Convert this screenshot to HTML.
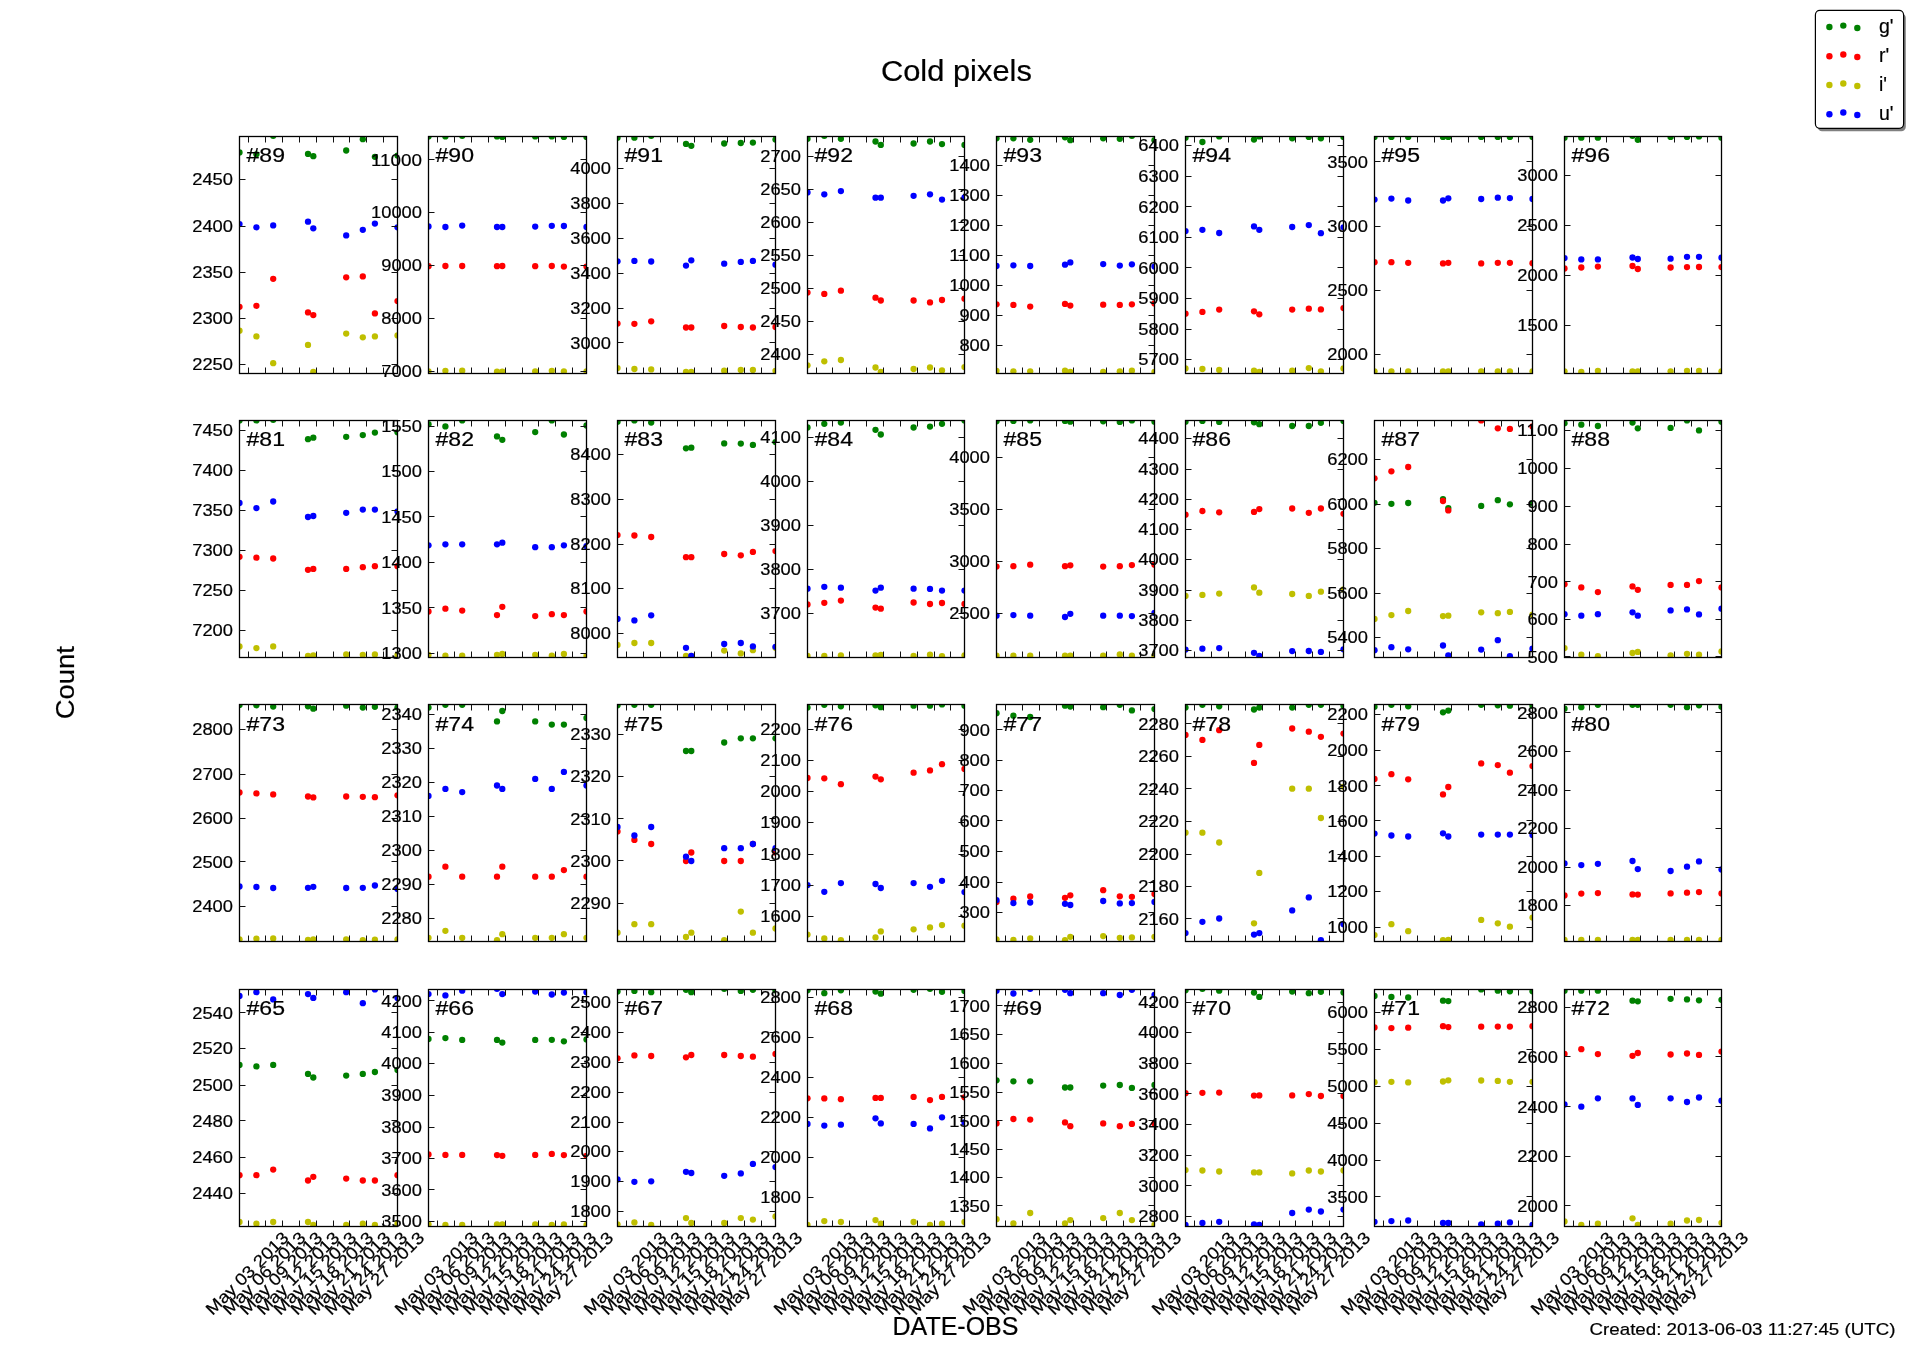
<!DOCTYPE html><html><head><meta charset="utf-8"><style>html,body{margin:0;padding:0;background:#fff;}svg{display:block;will-change:transform;}text{font-family:"Liberation Sans",sans-serif;fill:#000;stroke:#000;stroke-width:0.2px;}</style></head><body>
<svg width="1912" height="1362" viewBox="0 0 1912 1362">
<rect x="0" y="0" width="1912" height="1362" fill="#fff"/>
<defs><clipPath id="c00"><rect x="239.5" y="136.5" width="158.0" height="237.0"/></clipPath><clipPath id="c01"><rect x="428.5" y="136.5" width="158.0" height="237.0"/></clipPath><clipPath id="c02"><rect x="617.5" y="136.5" width="158.0" height="237.0"/></clipPath><clipPath id="c03"><rect x="807.5" y="136.5" width="157.0" height="237.0"/></clipPath><clipPath id="c04"><rect x="996.5" y="136.5" width="158.0" height="237.0"/></clipPath><clipPath id="c05"><rect x="1185.5" y="136.5" width="158.0" height="237.0"/></clipPath><clipPath id="c06"><rect x="1374.5" y="136.5" width="158.0" height="237.0"/></clipPath><clipPath id="c07"><rect x="1564.5" y="136.5" width="157.0" height="237.0"/></clipPath><clipPath id="c10"><rect x="239.5" y="420.5" width="158.0" height="237.0"/></clipPath><clipPath id="c11"><rect x="428.5" y="420.5" width="158.0" height="237.0"/></clipPath><clipPath id="c12"><rect x="617.5" y="420.5" width="158.0" height="237.0"/></clipPath><clipPath id="c13"><rect x="807.5" y="420.5" width="157.0" height="237.0"/></clipPath><clipPath id="c14"><rect x="996.5" y="420.5" width="158.0" height="237.0"/></clipPath><clipPath id="c15"><rect x="1185.5" y="420.5" width="158.0" height="237.0"/></clipPath><clipPath id="c16"><rect x="1374.5" y="420.5" width="158.0" height="237.0"/></clipPath><clipPath id="c17"><rect x="1564.5" y="420.5" width="157.0" height="237.0"/></clipPath><clipPath id="c20"><rect x="239.5" y="704.5" width="158.0" height="237.0"/></clipPath><clipPath id="c21"><rect x="428.5" y="704.5" width="158.0" height="237.0"/></clipPath><clipPath id="c22"><rect x="617.5" y="704.5" width="158.0" height="237.0"/></clipPath><clipPath id="c23"><rect x="807.5" y="704.5" width="157.0" height="237.0"/></clipPath><clipPath id="c24"><rect x="996.5" y="704.5" width="158.0" height="237.0"/></clipPath><clipPath id="c25"><rect x="1185.5" y="704.5" width="158.0" height="237.0"/></clipPath><clipPath id="c26"><rect x="1374.5" y="704.5" width="158.0" height="237.0"/></clipPath><clipPath id="c27"><rect x="1564.5" y="704.5" width="157.0" height="237.0"/></clipPath><clipPath id="c30"><rect x="239.5" y="989.5" width="158.0" height="237.0"/></clipPath><clipPath id="c31"><rect x="428.5" y="989.5" width="158.0" height="237.0"/></clipPath><clipPath id="c32"><rect x="617.5" y="989.5" width="158.0" height="237.0"/></clipPath><clipPath id="c33"><rect x="807.5" y="989.5" width="157.0" height="237.0"/></clipPath><clipPath id="c34"><rect x="996.5" y="989.5" width="158.0" height="237.0"/></clipPath><clipPath id="c35"><rect x="1185.5" y="989.5" width="158.0" height="237.0"/></clipPath><clipPath id="c36"><rect x="1374.5" y="989.5" width="158.0" height="237.0"/></clipPath><clipPath id="c37"><rect x="1564.5" y="989.5" width="157.0" height="237.0"/></clipPath></defs>
<g clip-path="url(#c00)"><g fill="#008000"><circle cx="239.5" cy="152.4" r="3.15"/><circle cx="256.4" cy="154.3" r="3.15"/><circle cx="273.2" cy="135.8" r="3.15"/><circle cx="308.0" cy="153.9" r="3.15"/><circle cx="313.3" cy="156.2" r="3.15"/><circle cx="346.2" cy="150.5" r="3.15"/><circle cx="362.8" cy="139.2" r="3.15"/><circle cx="374.9" cy="156.8" r="3.15"/><circle cx="397.5" cy="155.6" r="3.15"/></g><g fill="#ff0000"><circle cx="239.5" cy="306.8" r="3.15"/><circle cx="256.4" cy="305.8" r="3.15"/><circle cx="273.2" cy="278.8" r="3.15"/><circle cx="308.0" cy="312.4" r="3.15"/><circle cx="313.3" cy="315.1" r="3.15"/><circle cx="346.2" cy="277.3" r="3.15"/><circle cx="362.8" cy="276.4" r="3.15"/><circle cx="374.9" cy="313.4" r="3.15"/><circle cx="397.5" cy="301.1" r="3.15"/></g><g fill="#bfbf00"><circle cx="239.5" cy="330.7" r="3.15"/><circle cx="256.4" cy="336.4" r="3.15"/><circle cx="273.2" cy="363.2" r="3.15"/><circle cx="308.0" cy="344.9" r="3.15"/><circle cx="313.3" cy="371.9" r="3.15"/><circle cx="346.2" cy="333.6" r="3.15"/><circle cx="362.8" cy="337.3" r="3.15"/><circle cx="374.9" cy="336.4" r="3.15"/><circle cx="397.5" cy="335.4" r="3.15"/></g><g fill="#0000ff"><circle cx="239.5" cy="224.1" r="3.15"/><circle cx="256.4" cy="227.3" r="3.15"/><circle cx="273.2" cy="225.4" r="3.15"/><circle cx="308.0" cy="221.7" r="3.15"/><circle cx="313.3" cy="228.3" r="3.15"/><circle cx="346.2" cy="235.4" r="3.15"/><circle cx="362.8" cy="229.8" r="3.15"/><circle cx="374.9" cy="223.6" r="3.15"/><circle cx="397.5" cy="227.3" r="3.15"/></g></g><rect x="239.5" y="136.5" width="158.0" height="237.0" fill="none" stroke="#000" stroke-width="1.3"/><path d="M239.5 179.5h6M397.5 179.5h-6M239.5 226.5h6M397.5 226.5h-6M239.5 272.5h6M397.5 272.5h-6M239.5 318.5h6M397.5 318.5h-6M239.5 364.5h6M397.5 364.5h-6M248.5 136.5v6M248.5 373.5v-6M265.5 136.5v6M265.5 373.5v-6M282.5 136.5v6M282.5 373.5v-6M299.5 136.5v6M299.5 373.5v-6M316.5 136.5v6M316.5 373.5v-6M333.5 136.5v6M333.5 373.5v-6M349.5 136.5v6M349.5 373.5v-6M366.5 136.5v6M366.5 373.5v-6M383.5 136.5v6M383.5 373.5v-6" stroke="#111" stroke-width="1" fill="none"/><text x="233.0" y="185.4" font-size="16.8" text-anchor="end" textLength="40.8" lengthAdjust="spacingAndGlyphs">2450</text><text x="233.0" y="232.0" font-size="16.8" text-anchor="end" textLength="40.8" lengthAdjust="spacingAndGlyphs">2400</text><text x="233.0" y="278.2" font-size="16.8" text-anchor="end" textLength="40.8" lengthAdjust="spacingAndGlyphs">2350</text><text x="233.0" y="324.4" font-size="16.8" text-anchor="end" textLength="40.8" lengthAdjust="spacingAndGlyphs">2300</text><text x="233.0" y="370.3" font-size="16.8" text-anchor="end" textLength="40.8" lengthAdjust="spacingAndGlyphs">2250</text><text x="246.5" y="161.8" font-size="19.4" textLength="38.5" lengthAdjust="spacingAndGlyphs">#89</text><g clip-path="url(#c01)"><g fill="#008000"><circle cx="428.5" cy="136.4" r="3.15"/><circle cx="445.4" cy="136.4" r="3.15"/><circle cx="462.2" cy="135.8" r="3.15"/><circle cx="497.0" cy="136.4" r="3.15"/><circle cx="502.3" cy="136.9" r="3.15"/><circle cx="535.2" cy="136.4" r="3.15"/><circle cx="551.8" cy="136.4" r="3.15"/><circle cx="563.9" cy="136.9" r="3.15"/><circle cx="586.5" cy="136.9" r="3.15"/></g><g fill="#ff0000"><circle cx="428.5" cy="266.2" r="3.15"/><circle cx="445.4" cy="266.0" r="3.15"/><circle cx="462.2" cy="266.0" r="3.15"/><circle cx="497.0" cy="266.2" r="3.15"/><circle cx="502.3" cy="266.0" r="3.15"/><circle cx="535.2" cy="266.2" r="3.15"/><circle cx="551.8" cy="266.0" r="3.15"/><circle cx="563.9" cy="266.6" r="3.15"/><circle cx="586.5" cy="266.6" r="3.15"/></g><g fill="#bfbf00"><circle cx="428.5" cy="371.3" r="3.15"/><circle cx="445.4" cy="370.9" r="3.15"/><circle cx="462.2" cy="370.7" r="3.15"/><circle cx="497.0" cy="371.7" r="3.15"/><circle cx="502.3" cy="371.7" r="3.15"/><circle cx="535.2" cy="371.3" r="3.15"/><circle cx="551.8" cy="370.9" r="3.15"/><circle cx="563.9" cy="371.3" r="3.15"/><circle cx="586.5" cy="371.3" r="3.15"/></g><g fill="#0000ff"><circle cx="428.5" cy="226.4" r="3.15"/><circle cx="445.4" cy="227.0" r="3.15"/><circle cx="462.2" cy="225.6" r="3.15"/><circle cx="497.0" cy="227.0" r="3.15"/><circle cx="502.3" cy="227.0" r="3.15"/><circle cx="535.2" cy="226.6" r="3.15"/><circle cx="551.8" cy="225.8" r="3.15"/><circle cx="563.9" cy="226.0" r="3.15"/><circle cx="586.5" cy="227.0" r="3.15"/></g></g><rect x="428.5" y="136.5" width="158.0" height="237.0" fill="none" stroke="#000" stroke-width="1.3"/><path d="M428.5 159.5h6M586.5 159.5h-6M428.5 212.5h6M586.5 212.5h-6M428.5 265.5h6M586.5 265.5h-6M428.5 318.5h6M586.5 318.5h-6M428.5 371.5h6M586.5 371.5h-6M437.5 136.5v6M437.5 373.5v-6M454.5 136.5v6M454.5 373.5v-6M471.5 136.5v6M471.5 373.5v-6M488.5 136.5v6M488.5 373.5v-6M505.5 136.5v6M505.5 373.5v-6M522.5 136.5v6M522.5 373.5v-6M538.5 136.5v6M538.5 373.5v-6M555.5 136.5v6M555.5 373.5v-6M572.5 136.5v6M572.5 373.5v-6" stroke="#111" stroke-width="1" fill="none"/><text x="422.0" y="165.5" font-size="16.8" text-anchor="end" textLength="51.0" lengthAdjust="spacingAndGlyphs">11000</text><text x="422.0" y="218.4" font-size="16.8" text-anchor="end" textLength="51.0" lengthAdjust="spacingAndGlyphs">10000</text><text x="422.0" y="271.2" font-size="16.8" text-anchor="end" textLength="40.8" lengthAdjust="spacingAndGlyphs">9000</text><text x="422.0" y="324.0" font-size="16.8" text-anchor="end" textLength="40.8" lengthAdjust="spacingAndGlyphs">8000</text><text x="422.0" y="377.3" font-size="16.8" text-anchor="end" textLength="40.8" lengthAdjust="spacingAndGlyphs">7000</text><text x="435.5" y="161.8" font-size="19.4" textLength="38.5" lengthAdjust="spacingAndGlyphs">#90</text><g clip-path="url(#c02)"><g fill="#008000"><circle cx="617.5" cy="137.7" r="3.15"/><circle cx="634.4" cy="137.7" r="3.15"/><circle cx="651.2" cy="135.8" r="3.15"/><circle cx="686.0" cy="143.9" r="3.15"/><circle cx="691.3" cy="145.8" r="3.15"/><circle cx="724.2" cy="143.5" r="3.15"/><circle cx="740.8" cy="143.0" r="3.15"/><circle cx="752.9" cy="142.6" r="3.15"/><circle cx="775.5" cy="139.6" r="3.15"/></g><g fill="#ff0000"><circle cx="617.5" cy="323.6" r="3.15"/><circle cx="634.4" cy="323.8" r="3.15"/><circle cx="651.2" cy="321.3" r="3.15"/><circle cx="686.0" cy="327.5" r="3.15"/><circle cx="691.3" cy="327.5" r="3.15"/><circle cx="724.2" cy="326.0" r="3.15"/><circle cx="740.8" cy="327.0" r="3.15"/><circle cx="752.9" cy="327.5" r="3.15"/><circle cx="775.5" cy="327.0" r="3.15"/></g><g fill="#bfbf00"><circle cx="617.5" cy="368.1" r="3.15"/><circle cx="634.4" cy="369.0" r="3.15"/><circle cx="651.2" cy="369.4" r="3.15"/><circle cx="686.0" cy="371.9" r="3.15"/><circle cx="691.3" cy="371.9" r="3.15"/><circle cx="724.2" cy="370.7" r="3.15"/><circle cx="740.8" cy="370.0" r="3.15"/><circle cx="752.9" cy="370.0" r="3.15"/><circle cx="775.5" cy="370.9" r="3.15"/></g><g fill="#0000ff"><circle cx="617.5" cy="261.3" r="3.15"/><circle cx="634.4" cy="260.9" r="3.15"/><circle cx="651.2" cy="261.5" r="3.15"/><circle cx="686.0" cy="265.6" r="3.15"/><circle cx="691.3" cy="260.3" r="3.15"/><circle cx="724.2" cy="263.7" r="3.15"/><circle cx="740.8" cy="261.9" r="3.15"/><circle cx="752.9" cy="260.9" r="3.15"/><circle cx="775.5" cy="264.7" r="3.15"/></g></g><rect x="617.5" y="136.5" width="158.0" height="237.0" fill="none" stroke="#000" stroke-width="1.3"/><path d="M617.5 168.5h6M775.5 168.5h-6M617.5 203.5h6M775.5 203.5h-6M617.5 238.5h6M775.5 238.5h-6M617.5 273.5h6M775.5 273.5h-6M617.5 308.5h6M775.5 308.5h-6M617.5 342.5h6M775.5 342.5h-6M626.5 136.5v6M626.5 373.5v-6M643.5 136.5v6M643.5 373.5v-6M660.5 136.5v6M660.5 373.5v-6M677.5 136.5v6M677.5 373.5v-6M694.5 136.5v6M694.5 373.5v-6M711.5 136.5v6M711.5 373.5v-6M727.5 136.5v6M727.5 373.5v-6M744.5 136.5v6M744.5 373.5v-6M761.5 136.5v6M761.5 373.5v-6" stroke="#111" stroke-width="1" fill="none"/><text x="611.0" y="174.4" font-size="16.8" text-anchor="end" textLength="40.8" lengthAdjust="spacingAndGlyphs">4000</text><text x="611.0" y="209.3" font-size="16.8" text-anchor="end" textLength="40.8" lengthAdjust="spacingAndGlyphs">3800</text><text x="611.0" y="244.2" font-size="16.8" text-anchor="end" textLength="40.8" lengthAdjust="spacingAndGlyphs">3600</text><text x="611.0" y="279.1" font-size="16.8" text-anchor="end" textLength="40.8" lengthAdjust="spacingAndGlyphs">3400</text><text x="611.0" y="314.0" font-size="16.8" text-anchor="end" textLength="40.8" lengthAdjust="spacingAndGlyphs">3200</text><text x="611.0" y="348.9" font-size="16.8" text-anchor="end" textLength="40.8" lengthAdjust="spacingAndGlyphs">3000</text><text x="624.5" y="161.8" font-size="19.4" textLength="38.5" lengthAdjust="spacingAndGlyphs">#91</text><g clip-path="url(#c03)"><g fill="#008000"><circle cx="807.5" cy="138.8" r="3.15"/><circle cx="824.3" cy="135.8" r="3.15"/><circle cx="840.9" cy="138.8" r="3.15"/><circle cx="875.5" cy="141.5" r="3.15"/><circle cx="880.8" cy="144.9" r="3.15"/><circle cx="913.6" cy="143.5" r="3.15"/><circle cx="930.0" cy="141.5" r="3.15"/><circle cx="942.0" cy="144.1" r="3.15"/><circle cx="964.5" cy="144.9" r="3.15"/></g><g fill="#ff0000"><circle cx="807.5" cy="292.6" r="3.15"/><circle cx="824.3" cy="293.9" r="3.15"/><circle cx="840.9" cy="290.7" r="3.15"/><circle cx="875.5" cy="297.7" r="3.15"/><circle cx="880.8" cy="300.5" r="3.15"/><circle cx="913.6" cy="300.5" r="3.15"/><circle cx="930.0" cy="302.4" r="3.15"/><circle cx="942.0" cy="300.0" r="3.15"/><circle cx="964.5" cy="298.7" r="3.15"/></g><g fill="#bfbf00"><circle cx="807.5" cy="365.3" r="3.15"/><circle cx="824.3" cy="361.3" r="3.15"/><circle cx="840.9" cy="360.0" r="3.15"/><circle cx="875.5" cy="367.5" r="3.15"/><circle cx="880.8" cy="371.9" r="3.15"/><circle cx="913.6" cy="369.0" r="3.15"/><circle cx="930.0" cy="367.5" r="3.15"/><circle cx="942.0" cy="370.4" r="3.15"/><circle cx="964.5" cy="367.1" r="3.15"/></g><g fill="#0000ff"><circle cx="807.5" cy="192.4" r="3.15"/><circle cx="824.3" cy="194.3" r="3.15"/><circle cx="840.9" cy="191.1" r="3.15"/><circle cx="875.5" cy="197.7" r="3.15"/><circle cx="880.8" cy="197.7" r="3.15"/><circle cx="913.6" cy="195.8" r="3.15"/><circle cx="930.0" cy="194.3" r="3.15"/><circle cx="942.0" cy="199.6" r="3.15"/><circle cx="964.5" cy="197.3" r="3.15"/></g></g><rect x="807.5" y="136.5" width="157.0" height="237.0" fill="none" stroke="#000" stroke-width="1.3"/><path d="M807.5 156.5h6M964.5 156.5h-6M807.5 189.5h6M964.5 189.5h-6M807.5 222.5h6M964.5 222.5h-6M807.5 255.5h6M964.5 255.5h-6M807.5 288.5h6M964.5 288.5h-6M807.5 321.5h6M964.5 321.5h-6M807.5 354.5h6M964.5 354.5h-6M816.5 136.5v6M816.5 373.5v-6M832.5 136.5v6M832.5 373.5v-6M849.5 136.5v6M849.5 373.5v-6M866.5 136.5v6M866.5 373.5v-6M883.5 136.5v6M883.5 373.5v-6M900.5 136.5v6M900.5 373.5v-6M917.5 136.5v6M917.5 373.5v-6M934.5 136.5v6M934.5 373.5v-6M950.5 136.5v6M950.5 373.5v-6" stroke="#111" stroke-width="1" fill="none"/><text x="801.0" y="162.1" font-size="16.8" text-anchor="end" textLength="40.8" lengthAdjust="spacingAndGlyphs">2700</text><text x="801.0" y="195.2" font-size="16.8" text-anchor="end" textLength="40.8" lengthAdjust="spacingAndGlyphs">2650</text><text x="801.0" y="228.2" font-size="16.8" text-anchor="end" textLength="40.8" lengthAdjust="spacingAndGlyphs">2600</text><text x="801.0" y="261.2" font-size="16.8" text-anchor="end" textLength="40.8" lengthAdjust="spacingAndGlyphs">2550</text><text x="801.0" y="294.2" font-size="16.8" text-anchor="end" textLength="40.8" lengthAdjust="spacingAndGlyphs">2500</text><text x="801.0" y="327.2" font-size="16.8" text-anchor="end" textLength="40.8" lengthAdjust="spacingAndGlyphs">2450</text><text x="801.0" y="360.3" font-size="16.8" text-anchor="end" textLength="40.8" lengthAdjust="spacingAndGlyphs">2400</text><text x="814.5" y="161.8" font-size="19.4" textLength="38.5" lengthAdjust="spacingAndGlyphs">#92</text><g clip-path="url(#c04)"><g fill="#008000"><circle cx="996.5" cy="138.3" r="3.15"/><circle cx="1013.4" cy="138.3" r="3.15"/><circle cx="1030.2" cy="139.8" r="3.15"/><circle cx="1065.0" cy="137.3" r="3.15"/><circle cx="1070.3" cy="140.2" r="3.15"/><circle cx="1103.2" cy="138.3" r="3.15"/><circle cx="1119.8" cy="138.8" r="3.15"/><circle cx="1131.9" cy="135.8" r="3.15"/><circle cx="1154.5" cy="140.2" r="3.15"/></g><g fill="#ff0000"><circle cx="996.5" cy="304.3" r="3.15"/><circle cx="1013.4" cy="304.9" r="3.15"/><circle cx="1030.2" cy="306.6" r="3.15"/><circle cx="1065.0" cy="303.9" r="3.15"/><circle cx="1070.3" cy="305.6" r="3.15"/><circle cx="1103.2" cy="304.7" r="3.15"/><circle cx="1119.8" cy="304.9" r="3.15"/><circle cx="1131.9" cy="304.3" r="3.15"/><circle cx="1154.5" cy="303.4" r="3.15"/></g><g fill="#bfbf00"><circle cx="996.5" cy="370.9" r="3.15"/><circle cx="1013.4" cy="371.3" r="3.15"/><circle cx="1030.2" cy="371.3" r="3.15"/><circle cx="1065.0" cy="370.7" r="3.15"/><circle cx="1070.3" cy="371.9" r="3.15"/><circle cx="1103.2" cy="371.9" r="3.15"/><circle cx="1119.8" cy="371.3" r="3.15"/><circle cx="1131.9" cy="370.7" r="3.15"/><circle cx="1154.5" cy="371.9" r="3.15"/></g><g fill="#0000ff"><circle cx="996.5" cy="266.0" r="3.15"/><circle cx="1013.4" cy="265.3" r="3.15"/><circle cx="1030.2" cy="266.0" r="3.15"/><circle cx="1065.0" cy="264.7" r="3.15"/><circle cx="1070.3" cy="262.4" r="3.15"/><circle cx="1103.2" cy="264.1" r="3.15"/><circle cx="1119.8" cy="265.6" r="3.15"/><circle cx="1131.9" cy="264.3" r="3.15"/><circle cx="1154.5" cy="266.6" r="3.15"/></g></g><rect x="996.5" y="136.5" width="158.0" height="237.0" fill="none" stroke="#000" stroke-width="1.3"/><path d="M996.5 165.5h6M1154.5 165.5h-6M996.5 195.5h6M1154.5 195.5h-6M996.5 225.5h6M1154.5 225.5h-6M996.5 255.5h6M1154.5 255.5h-6M996.5 285.5h6M1154.5 285.5h-6M996.5 315.5h6M1154.5 315.5h-6M996.5 345.5h6M1154.5 345.5h-6M1005.5 136.5v6M1005.5 373.5v-6M1022.5 136.5v6M1022.5 373.5v-6M1039.5 136.5v6M1039.5 373.5v-6M1056.5 136.5v6M1056.5 373.5v-6M1073.5 136.5v6M1073.5 373.5v-6M1090.5 136.5v6M1090.5 373.5v-6M1106.5 136.5v6M1106.5 373.5v-6M1123.5 136.5v6M1123.5 373.5v-6M1140.5 136.5v6M1140.5 373.5v-6" stroke="#111" stroke-width="1" fill="none"/><text x="990.0" y="171.2" font-size="16.8" text-anchor="end" textLength="40.8" lengthAdjust="spacingAndGlyphs">1400</text><text x="990.0" y="201.2" font-size="16.8" text-anchor="end" textLength="40.8" lengthAdjust="spacingAndGlyphs">1300</text><text x="990.0" y="231.2" font-size="16.8" text-anchor="end" textLength="40.8" lengthAdjust="spacingAndGlyphs">1200</text><text x="990.0" y="261.2" font-size="16.8" text-anchor="end" textLength="40.8" lengthAdjust="spacingAndGlyphs">1100</text><text x="990.0" y="291.4" font-size="16.8" text-anchor="end" textLength="40.8" lengthAdjust="spacingAndGlyphs">1000</text><text x="990.0" y="321.2" font-size="16.8" text-anchor="end" textLength="30.6" lengthAdjust="spacingAndGlyphs">900</text><text x="990.0" y="351.2" font-size="16.8" text-anchor="end" textLength="30.6" lengthAdjust="spacingAndGlyphs">800</text><text x="1003.5" y="161.8" font-size="19.4" textLength="38.5" lengthAdjust="spacingAndGlyphs">#93</text><g clip-path="url(#c05)"><g fill="#008000"><circle cx="1185.5" cy="137.7" r="3.15"/><circle cx="1202.4" cy="142.0" r="3.15"/><circle cx="1219.2" cy="136.4" r="3.15"/><circle cx="1254.0" cy="139.6" r="3.15"/><circle cx="1259.3" cy="136.4" r="3.15"/><circle cx="1292.2" cy="138.3" r="3.15"/><circle cx="1308.8" cy="136.9" r="3.15"/><circle cx="1320.9" cy="138.3" r="3.15"/><circle cx="1343.5" cy="136.9" r="3.15"/></g><g fill="#ff0000"><circle cx="1185.5" cy="313.7" r="3.15"/><circle cx="1202.4" cy="311.9" r="3.15"/><circle cx="1219.2" cy="309.6" r="3.15"/><circle cx="1254.0" cy="311.3" r="3.15"/><circle cx="1259.3" cy="314.3" r="3.15"/><circle cx="1292.2" cy="309.6" r="3.15"/><circle cx="1308.8" cy="308.7" r="3.15"/><circle cx="1320.9" cy="309.4" r="3.15"/><circle cx="1343.5" cy="308.1" r="3.15"/></g><g fill="#bfbf00"><circle cx="1185.5" cy="368.5" r="3.15"/><circle cx="1202.4" cy="369.0" r="3.15"/><circle cx="1219.2" cy="370.0" r="3.15"/><circle cx="1254.0" cy="370.7" r="3.15"/><circle cx="1259.3" cy="371.9" r="3.15"/><circle cx="1292.2" cy="370.7" r="3.15"/><circle cx="1308.8" cy="368.1" r="3.15"/><circle cx="1320.9" cy="371.3" r="3.15"/><circle cx="1343.5" cy="368.5" r="3.15"/></g><g fill="#0000ff"><circle cx="1185.5" cy="231.1" r="3.15"/><circle cx="1202.4" cy="229.8" r="3.15"/><circle cx="1219.2" cy="233.0" r="3.15"/><circle cx="1254.0" cy="226.4" r="3.15"/><circle cx="1259.3" cy="229.8" r="3.15"/><circle cx="1292.2" cy="227.0" r="3.15"/><circle cx="1308.8" cy="225.1" r="3.15"/><circle cx="1320.9" cy="233.2" r="3.15"/><circle cx="1343.5" cy="227.3" r="3.15"/></g></g><rect x="1185.5" y="136.5" width="158.0" height="237.0" fill="none" stroke="#000" stroke-width="1.3"/><path d="M1185.5 145.5h6M1343.5 145.5h-6M1185.5 176.5h6M1343.5 176.5h-6M1185.5 206.5h6M1343.5 206.5h-6M1185.5 237.5h6M1343.5 237.5h-6M1185.5 267.5h6M1343.5 267.5h-6M1185.5 298.5h6M1343.5 298.5h-6M1185.5 329.5h6M1343.5 329.5h-6M1185.5 359.5h6M1343.5 359.5h-6M1194.5 136.5v6M1194.5 373.5v-6M1211.5 136.5v6M1211.5 373.5v-6M1228.5 136.5v6M1228.5 373.5v-6M1245.5 136.5v6M1245.5 373.5v-6M1262.5 136.5v6M1262.5 373.5v-6M1279.5 136.5v6M1279.5 373.5v-6M1295.5 136.5v6M1295.5 373.5v-6M1312.5 136.5v6M1312.5 373.5v-6M1329.5 136.5v6M1329.5 373.5v-6" stroke="#111" stroke-width="1" fill="none"/><text x="1179.0" y="151.2" font-size="16.8" text-anchor="end" textLength="40.8" lengthAdjust="spacingAndGlyphs">6400</text><text x="1179.0" y="182.0" font-size="16.8" text-anchor="end" textLength="40.8" lengthAdjust="spacingAndGlyphs">6300</text><text x="1179.0" y="212.5" font-size="16.8" text-anchor="end" textLength="40.8" lengthAdjust="spacingAndGlyphs">6200</text><text x="1179.0" y="243.3" font-size="16.8" text-anchor="end" textLength="40.8" lengthAdjust="spacingAndGlyphs">6100</text><text x="1179.0" y="273.8" font-size="16.8" text-anchor="end" textLength="40.8" lengthAdjust="spacingAndGlyphs">6000</text><text x="1179.0" y="304.2" font-size="16.8" text-anchor="end" textLength="40.8" lengthAdjust="spacingAndGlyphs">5900</text><text x="1179.0" y="335.2" font-size="16.8" text-anchor="end" textLength="40.8" lengthAdjust="spacingAndGlyphs">5800</text><text x="1179.0" y="365.4" font-size="16.8" text-anchor="end" textLength="40.8" lengthAdjust="spacingAndGlyphs">5700</text><text x="1192.5" y="161.8" font-size="19.4" textLength="38.5" lengthAdjust="spacingAndGlyphs">#94</text><g clip-path="url(#c06)"><g fill="#008000"><circle cx="1374.5" cy="136.9" r="3.15"/><circle cx="1391.4" cy="136.9" r="3.15"/><circle cx="1408.2" cy="136.9" r="3.15"/><circle cx="1443.0" cy="136.9" r="3.15"/><circle cx="1448.3" cy="136.9" r="3.15"/><circle cx="1481.2" cy="136.9" r="3.15"/><circle cx="1497.8" cy="136.9" r="3.15"/><circle cx="1509.9" cy="136.9" r="3.15"/><circle cx="1532.5" cy="136.9" r="3.15"/></g><g fill="#ff0000"><circle cx="1374.5" cy="262.2" r="3.15"/><circle cx="1391.4" cy="262.2" r="3.15"/><circle cx="1408.2" cy="262.8" r="3.15"/><circle cx="1443.0" cy="263.4" r="3.15"/><circle cx="1448.3" cy="262.8" r="3.15"/><circle cx="1481.2" cy="263.4" r="3.15"/><circle cx="1497.8" cy="262.8" r="3.15"/><circle cx="1509.9" cy="262.8" r="3.15"/><circle cx="1532.5" cy="263.2" r="3.15"/></g><g fill="#bfbf00"><circle cx="1374.5" cy="371.3" r="3.15"/><circle cx="1391.4" cy="371.3" r="3.15"/><circle cx="1408.2" cy="371.3" r="3.15"/><circle cx="1443.0" cy="371.3" r="3.15"/><circle cx="1448.3" cy="371.3" r="3.15"/><circle cx="1481.2" cy="371.3" r="3.15"/><circle cx="1497.8" cy="371.3" r="3.15"/><circle cx="1509.9" cy="371.3" r="3.15"/><circle cx="1532.5" cy="371.3" r="3.15"/></g><g fill="#0000ff"><circle cx="1374.5" cy="199.6" r="3.15"/><circle cx="1391.4" cy="198.6" r="3.15"/><circle cx="1408.2" cy="200.5" r="3.15"/><circle cx="1443.0" cy="200.5" r="3.15"/><circle cx="1448.3" cy="198.3" r="3.15"/><circle cx="1481.2" cy="199.0" r="3.15"/><circle cx="1497.8" cy="197.7" r="3.15"/><circle cx="1509.9" cy="198.1" r="3.15"/><circle cx="1532.5" cy="199.0" r="3.15"/></g></g><rect x="1374.5" y="136.5" width="158.0" height="237.0" fill="none" stroke="#000" stroke-width="1.3"/><path d="M1374.5 161.5h6M1532.5 161.5h-6M1374.5 226.5h6M1532.5 226.5h-6M1374.5 290.5h6M1532.5 290.5h-6M1374.5 354.5h6M1532.5 354.5h-6M1383.5 136.5v6M1383.5 373.5v-6M1400.5 136.5v6M1400.5 373.5v-6M1417.5 136.5v6M1417.5 373.5v-6M1434.5 136.5v6M1434.5 373.5v-6M1451.5 136.5v6M1451.5 373.5v-6M1468.5 136.5v6M1468.5 373.5v-6M1484.5 136.5v6M1484.5 373.5v-6M1501.5 136.5v6M1501.5 373.5v-6M1518.5 136.5v6M1518.5 373.5v-6" stroke="#111" stroke-width="1" fill="none"/><text x="1368.0" y="167.8" font-size="16.8" text-anchor="end" textLength="40.8" lengthAdjust="spacingAndGlyphs">3500</text><text x="1368.0" y="232.0" font-size="16.8" text-anchor="end" textLength="40.8" lengthAdjust="spacingAndGlyphs">3000</text><text x="1368.0" y="296.1" font-size="16.8" text-anchor="end" textLength="40.8" lengthAdjust="spacingAndGlyphs">2500</text><text x="1368.0" y="360.3" font-size="16.8" text-anchor="end" textLength="40.8" lengthAdjust="spacingAndGlyphs">2000</text><text x="1381.5" y="161.8" font-size="19.4" textLength="38.5" lengthAdjust="spacingAndGlyphs">#95</text><g clip-path="url(#c07)"><g fill="#008000"><circle cx="1564.5" cy="137.7" r="3.15"/><circle cx="1581.3" cy="137.7" r="3.15"/><circle cx="1597.9" cy="137.7" r="3.15"/><circle cx="1632.5" cy="135.8" r="3.15"/><circle cx="1637.8" cy="139.8" r="3.15"/><circle cx="1670.6" cy="136.9" r="3.15"/><circle cx="1687.0" cy="136.9" r="3.15"/><circle cx="1699.0" cy="136.4" r="3.15"/><circle cx="1721.5" cy="137.7" r="3.15"/></g><g fill="#ff0000"><circle cx="1564.5" cy="268.5" r="3.15"/><circle cx="1581.3" cy="267.5" r="3.15"/><circle cx="1597.9" cy="266.6" r="3.15"/><circle cx="1632.5" cy="266.0" r="3.15"/><circle cx="1637.8" cy="269.0" r="3.15"/><circle cx="1670.6" cy="267.5" r="3.15"/><circle cx="1687.0" cy="267.1" r="3.15"/><circle cx="1699.0" cy="267.0" r="3.15"/><circle cx="1721.5" cy="267.1" r="3.15"/></g><g fill="#bfbf00"><circle cx="1564.5" cy="371.3" r="3.15"/><circle cx="1581.3" cy="371.9" r="3.15"/><circle cx="1597.9" cy="370.9" r="3.15"/><circle cx="1632.5" cy="371.3" r="3.15"/><circle cx="1637.8" cy="371.3" r="3.15"/><circle cx="1670.6" cy="371.3" r="3.15"/><circle cx="1687.0" cy="370.9" r="3.15"/><circle cx="1699.0" cy="370.9" r="3.15"/><circle cx="1721.5" cy="371.3" r="3.15"/></g><g fill="#0000ff"><circle cx="1564.5" cy="258.1" r="3.15"/><circle cx="1581.3" cy="259.4" r="3.15"/><circle cx="1597.9" cy="259.4" r="3.15"/><circle cx="1632.5" cy="257.5" r="3.15"/><circle cx="1637.8" cy="259.0" r="3.15"/><circle cx="1670.6" cy="258.7" r="3.15"/><circle cx="1687.0" cy="256.8" r="3.15"/><circle cx="1699.0" cy="256.8" r="3.15"/><circle cx="1721.5" cy="257.7" r="3.15"/></g></g><rect x="1564.5" y="136.5" width="157.0" height="237.0" fill="none" stroke="#000" stroke-width="1.3"/><path d="M1564.5 175.5h6M1721.5 175.5h-6M1564.5 225.5h6M1721.5 225.5h-6M1564.5 275.5h6M1721.5 275.5h-6M1564.5 325.5h6M1721.5 325.5h-6M1573.5 136.5v6M1573.5 373.5v-6M1589.5 136.5v6M1589.5 373.5v-6M1606.5 136.5v6M1606.5 373.5v-6M1623.5 136.5v6M1623.5 373.5v-6M1640.5 136.5v6M1640.5 373.5v-6M1657.5 136.5v6M1657.5 373.5v-6M1674.5 136.5v6M1674.5 373.5v-6M1691.5 136.5v6M1691.5 373.5v-6M1707.5 136.5v6M1707.5 373.5v-6" stroke="#111" stroke-width="1" fill="none"/><text x="1558.0" y="181.4" font-size="16.8" text-anchor="end" textLength="40.8" lengthAdjust="spacingAndGlyphs">3000</text><text x="1558.0" y="231.0" font-size="16.8" text-anchor="end" textLength="40.8" lengthAdjust="spacingAndGlyphs">2500</text><text x="1558.0" y="281.0" font-size="16.8" text-anchor="end" textLength="40.8" lengthAdjust="spacingAndGlyphs">2000</text><text x="1558.0" y="331.0" font-size="16.8" text-anchor="end" textLength="40.8" lengthAdjust="spacingAndGlyphs">1500</text><text x="1571.5" y="161.8" font-size="19.4" textLength="38.5" lengthAdjust="spacingAndGlyphs">#96</text><g clip-path="url(#c10)"><g fill="#008000"><circle cx="239.5" cy="420.4" r="3.15"/><circle cx="256.4" cy="420.4" r="3.15"/><circle cx="273.2" cy="419.8" r="3.15"/><circle cx="308.0" cy="439.2" r="3.15"/><circle cx="313.3" cy="437.7" r="3.15"/><circle cx="346.2" cy="436.8" r="3.15"/><circle cx="362.8" cy="435.1" r="3.15"/><circle cx="374.9" cy="432.6" r="3.15"/><circle cx="397.5" cy="432.3" r="3.15"/></g><g fill="#ff0000"><circle cx="239.5" cy="556.8" r="3.15"/><circle cx="256.4" cy="557.7" r="3.15"/><circle cx="273.2" cy="558.5" r="3.15"/><circle cx="308.0" cy="569.8" r="3.15"/><circle cx="313.3" cy="568.9" r="3.15"/><circle cx="346.2" cy="568.9" r="3.15"/><circle cx="362.8" cy="567.2" r="3.15"/><circle cx="374.9" cy="566.2" r="3.15"/><circle cx="397.5" cy="566.2" r="3.15"/></g><g fill="#bfbf00"><circle cx="239.5" cy="646.4" r="3.15"/><circle cx="256.4" cy="648.1" r="3.15"/><circle cx="273.2" cy="646.4" r="3.15"/><circle cx="308.0" cy="655.9" r="3.15"/><circle cx="313.3" cy="655.3" r="3.15"/><circle cx="346.2" cy="654.4" r="3.15"/><circle cx="362.8" cy="654.9" r="3.15"/><circle cx="374.9" cy="654.4" r="3.15"/><circle cx="397.5" cy="654.9" r="3.15"/></g><g fill="#0000ff"><circle cx="239.5" cy="503.0" r="3.15"/><circle cx="256.4" cy="508.1" r="3.15"/><circle cx="273.2" cy="501.5" r="3.15"/><circle cx="308.0" cy="517.0" r="3.15"/><circle cx="313.3" cy="516.0" r="3.15"/><circle cx="346.2" cy="512.8" r="3.15"/><circle cx="362.8" cy="509.6" r="3.15"/><circle cx="374.9" cy="509.6" r="3.15"/><circle cx="397.5" cy="511.5" r="3.15"/></g></g><rect x="239.5" y="420.5" width="158.0" height="237.0" fill="none" stroke="#000" stroke-width="1.3"/><path d="M239.5 430.5h6M397.5 430.5h-6M239.5 470.5h6M397.5 470.5h-6M239.5 510.5h6M397.5 510.5h-6M239.5 550.5h6M397.5 550.5h-6M239.5 590.5h6M397.5 590.5h-6M239.5 630.5h6M397.5 630.5h-6M248.5 420.5v6M248.5 657.5v-6M265.5 420.5v6M265.5 657.5v-6M282.5 420.5v6M282.5 657.5v-6M299.5 420.5v6M299.5 657.5v-6M316.5 420.5v6M316.5 657.5v-6M333.5 420.5v6M333.5 657.5v-6M349.5 420.5v6M349.5 657.5v-6M366.5 420.5v6M366.5 657.5v-6M383.5 420.5v6M383.5 657.5v-6" stroke="#111" stroke-width="1" fill="none"/><text x="233.0" y="436.3" font-size="16.8" text-anchor="end" textLength="40.8" lengthAdjust="spacingAndGlyphs">7450</text><text x="233.0" y="476.3" font-size="16.8" text-anchor="end" textLength="40.8" lengthAdjust="spacingAndGlyphs">7400</text><text x="233.0" y="516.3" font-size="16.8" text-anchor="end" textLength="40.8" lengthAdjust="spacingAndGlyphs">7350</text><text x="233.0" y="556.1" font-size="16.8" text-anchor="end" textLength="40.8" lengthAdjust="spacingAndGlyphs">7300</text><text x="233.0" y="596.2" font-size="16.8" text-anchor="end" textLength="40.8" lengthAdjust="spacingAndGlyphs">7250</text><text x="233.0" y="636.2" font-size="16.8" text-anchor="end" textLength="40.8" lengthAdjust="spacingAndGlyphs">7200</text><text x="246.5" y="445.9" font-size="19.4" textLength="38.5" lengthAdjust="spacingAndGlyphs">#81</text><g clip-path="url(#c11)"><g fill="#008000"><circle cx="428.5" cy="424.2" r="3.15"/><circle cx="445.4" cy="426.4" r="3.15"/><circle cx="462.2" cy="420.4" r="3.15"/><circle cx="497.0" cy="436.4" r="3.15"/><circle cx="502.3" cy="439.8" r="3.15"/><circle cx="535.2" cy="432.1" r="3.15"/><circle cx="551.8" cy="420.4" r="3.15"/><circle cx="563.9" cy="434.5" r="3.15"/><circle cx="586.5" cy="425.5" r="3.15"/></g><g fill="#ff0000"><circle cx="428.5" cy="611.5" r="3.15"/><circle cx="445.4" cy="608.7" r="3.15"/><circle cx="462.2" cy="610.6" r="3.15"/><circle cx="497.0" cy="615.1" r="3.15"/><circle cx="502.3" cy="606.8" r="3.15"/><circle cx="535.2" cy="616.1" r="3.15"/><circle cx="551.8" cy="614.2" r="3.15"/><circle cx="563.9" cy="615.1" r="3.15"/><circle cx="586.5" cy="611.5" r="3.15"/></g><g fill="#bfbf00"><circle cx="428.5" cy="654.9" r="3.15"/><circle cx="445.4" cy="655.7" r="3.15"/><circle cx="462.2" cy="655.7" r="3.15"/><circle cx="497.0" cy="654.9" r="3.15"/><circle cx="502.3" cy="654.0" r="3.15"/><circle cx="535.2" cy="654.9" r="3.15"/><circle cx="551.8" cy="655.7" r="3.15"/><circle cx="563.9" cy="654.0" r="3.15"/><circle cx="586.5" cy="655.9" r="3.15"/></g><g fill="#0000ff"><circle cx="428.5" cy="545.3" r="3.15"/><circle cx="445.4" cy="544.3" r="3.15"/><circle cx="462.2" cy="544.3" r="3.15"/><circle cx="497.0" cy="544.3" r="3.15"/><circle cx="502.3" cy="542.7" r="3.15"/><circle cx="535.2" cy="547.2" r="3.15"/><circle cx="551.8" cy="547.2" r="3.15"/><circle cx="563.9" cy="545.3" r="3.15"/><circle cx="586.5" cy="546.2" r="3.15"/></g></g><rect x="428.5" y="420.5" width="158.0" height="237.0" fill="none" stroke="#000" stroke-width="1.3"/><path d="M428.5 426.5h6M586.5 426.5h-6M428.5 471.5h6M586.5 471.5h-6M428.5 516.5h6M586.5 516.5h-6M428.5 562.5h6M586.5 562.5h-6M428.5 607.5h6M586.5 607.5h-6M428.5 653.5h6M586.5 653.5h-6M437.5 420.5v6M437.5 657.5v-6M454.5 420.5v6M454.5 657.5v-6M471.5 420.5v6M471.5 657.5v-6M488.5 420.5v6M488.5 657.5v-6M505.5 420.5v6M505.5 657.5v-6M522.5 420.5v6M522.5 657.5v-6M538.5 420.5v6M538.5 657.5v-6M555.5 420.5v6M555.5 657.5v-6M572.5 420.5v6M572.5 657.5v-6" stroke="#111" stroke-width="1" fill="none"/><text x="422.0" y="432.0" font-size="16.8" text-anchor="end" textLength="40.8" lengthAdjust="spacingAndGlyphs">1550</text><text x="422.0" y="477.3" font-size="16.8" text-anchor="end" textLength="40.8" lengthAdjust="spacingAndGlyphs">1500</text><text x="422.0" y="522.6" font-size="16.8" text-anchor="end" textLength="40.8" lengthAdjust="spacingAndGlyphs">1450</text><text x="422.0" y="568.2" font-size="16.8" text-anchor="end" textLength="40.8" lengthAdjust="spacingAndGlyphs">1400</text><text x="422.0" y="613.5" font-size="16.8" text-anchor="end" textLength="40.8" lengthAdjust="spacingAndGlyphs">1350</text><text x="422.0" y="659.4" font-size="16.8" text-anchor="end" textLength="40.8" lengthAdjust="spacingAndGlyphs">1300</text><text x="435.5" y="445.9" font-size="19.4" textLength="38.5" lengthAdjust="spacingAndGlyphs">#82</text><g clip-path="url(#c12)"><g fill="#008000"><circle cx="617.5" cy="421.7" r="3.15"/><circle cx="634.4" cy="420.4" r="3.15"/><circle cx="651.2" cy="422.6" r="3.15"/><circle cx="686.0" cy="448.3" r="3.15"/><circle cx="691.3" cy="447.7" r="3.15"/><circle cx="724.2" cy="443.4" r="3.15"/><circle cx="740.8" cy="443.6" r="3.15"/><circle cx="752.9" cy="444.9" r="3.15"/><circle cx="775.5" cy="442.1" r="3.15"/></g><g fill="#ff0000"><circle cx="617.5" cy="535.1" r="3.15"/><circle cx="634.4" cy="535.5" r="3.15"/><circle cx="651.2" cy="537.0" r="3.15"/><circle cx="686.0" cy="557.2" r="3.15"/><circle cx="691.3" cy="557.2" r="3.15"/><circle cx="724.2" cy="554.0" r="3.15"/><circle cx="740.8" cy="555.3" r="3.15"/><circle cx="752.9" cy="551.9" r="3.15"/><circle cx="775.5" cy="551.1" r="3.15"/></g><g fill="#bfbf00"><circle cx="617.5" cy="644.9" r="3.15"/><circle cx="634.4" cy="643.0" r="3.15"/><circle cx="651.2" cy="643.0" r="3.15"/><circle cx="686.0" cy="655.9" r="3.15"/><circle cx="691.3" cy="655.9" r="3.15"/><circle cx="724.2" cy="650.6" r="3.15"/><circle cx="740.8" cy="653.4" r="3.15"/><circle cx="752.9" cy="650.2" r="3.15"/><circle cx="775.5" cy="647.8" r="3.15"/></g><g fill="#0000ff"><circle cx="617.5" cy="618.9" r="3.15"/><circle cx="634.4" cy="620.4" r="3.15"/><circle cx="651.2" cy="615.3" r="3.15"/><circle cx="686.0" cy="647.8" r="3.15"/><circle cx="691.3" cy="655.9" r="3.15"/><circle cx="724.2" cy="644.0" r="3.15"/><circle cx="740.8" cy="643.0" r="3.15"/><circle cx="752.9" cy="646.4" r="3.15"/><circle cx="775.5" cy="646.8" r="3.15"/></g></g><rect x="617.5" y="420.5" width="158.0" height="237.0" fill="none" stroke="#000" stroke-width="1.3"/><path d="M617.5 454.5h6M775.5 454.5h-6M617.5 499.5h6M775.5 499.5h-6M617.5 544.5h6M775.5 544.5h-6M617.5 588.5h6M775.5 588.5h-6M617.5 633.5h6M775.5 633.5h-6M626.5 420.5v6M626.5 657.5v-6M643.5 420.5v6M643.5 657.5v-6M660.5 420.5v6M660.5 657.5v-6M677.5 420.5v6M677.5 657.5v-6M694.5 420.5v6M694.5 657.5v-6M711.5 420.5v6M711.5 657.5v-6M727.5 420.5v6M727.5 657.5v-6M744.5 420.5v6M744.5 657.5v-6M761.5 420.5v6M761.5 657.5v-6" stroke="#111" stroke-width="1" fill="none"/><text x="611.0" y="460.3" font-size="16.8" text-anchor="end" textLength="40.8" lengthAdjust="spacingAndGlyphs">8400</text><text x="611.0" y="505.2" font-size="16.8" text-anchor="end" textLength="40.8" lengthAdjust="spacingAndGlyphs">8300</text><text x="611.0" y="550.3" font-size="16.8" text-anchor="end" textLength="40.8" lengthAdjust="spacingAndGlyphs">8200</text><text x="611.0" y="594.3" font-size="16.8" text-anchor="end" textLength="40.8" lengthAdjust="spacingAndGlyphs">8100</text><text x="611.0" y="639.2" font-size="16.8" text-anchor="end" textLength="40.8" lengthAdjust="spacingAndGlyphs">8000</text><text x="624.5" y="445.9" font-size="19.4" textLength="38.5" lengthAdjust="spacingAndGlyphs">#83</text><g clip-path="url(#c13)"><g fill="#008000"><circle cx="807.5" cy="427.5" r="3.15"/><circle cx="824.3" cy="423.8" r="3.15"/><circle cx="840.9" cy="422.6" r="3.15"/><circle cx="875.5" cy="429.8" r="3.15"/><circle cx="880.8" cy="434.5" r="3.15"/><circle cx="913.6" cy="427.5" r="3.15"/><circle cx="930.0" cy="426.6" r="3.15"/><circle cx="942.0" cy="423.8" r="3.15"/><circle cx="964.5" cy="420.4" r="3.15"/></g><g fill="#ff0000"><circle cx="807.5" cy="604.4" r="3.15"/><circle cx="824.3" cy="602.8" r="3.15"/><circle cx="840.9" cy="600.6" r="3.15"/><circle cx="875.5" cy="607.6" r="3.15"/><circle cx="880.8" cy="608.7" r="3.15"/><circle cx="913.6" cy="602.5" r="3.15"/><circle cx="930.0" cy="604.0" r="3.15"/><circle cx="942.0" cy="603.0" r="3.15"/><circle cx="964.5" cy="604.0" r="3.15"/></g><g fill="#bfbf00"><circle cx="807.5" cy="655.9" r="3.15"/><circle cx="824.3" cy="655.9" r="3.15"/><circle cx="840.9" cy="655.3" r="3.15"/><circle cx="875.5" cy="655.3" r="3.15"/><circle cx="880.8" cy="654.9" r="3.15"/><circle cx="913.6" cy="655.9" r="3.15"/><circle cx="930.0" cy="654.7" r="3.15"/><circle cx="942.0" cy="656.2" r="3.15"/><circle cx="964.5" cy="655.3" r="3.15"/></g><g fill="#0000ff"><circle cx="807.5" cy="588.7" r="3.15"/><circle cx="824.3" cy="586.8" r="3.15"/><circle cx="840.9" cy="587.7" r="3.15"/><circle cx="875.5" cy="590.6" r="3.15"/><circle cx="880.8" cy="587.7" r="3.15"/><circle cx="913.6" cy="588.7" r="3.15"/><circle cx="930.0" cy="588.9" r="3.15"/><circle cx="942.0" cy="590.6" r="3.15"/><circle cx="964.5" cy="590.6" r="3.15"/></g></g><rect x="807.5" y="420.5" width="157.0" height="237.0" fill="none" stroke="#000" stroke-width="1.3"/><path d="M807.5 437.5h6M964.5 437.5h-6M807.5 481.5h6M964.5 481.5h-6M807.5 525.5h6M964.5 525.5h-6M807.5 569.5h6M964.5 569.5h-6M807.5 613.5h6M964.5 613.5h-6M816.5 420.5v6M816.5 657.5v-6M832.5 420.5v6M832.5 657.5v-6M849.5 420.5v6M849.5 657.5v-6M866.5 420.5v6M866.5 657.5v-6M883.5 420.5v6M883.5 657.5v-6M900.5 420.5v6M900.5 657.5v-6M917.5 420.5v6M917.5 657.5v-6M934.5 420.5v6M934.5 657.5v-6M950.5 420.5v6M950.5 657.5v-6" stroke="#111" stroke-width="1" fill="none"/><text x="801.0" y="443.3" font-size="16.8" text-anchor="end" textLength="40.8" lengthAdjust="spacingAndGlyphs">4100</text><text x="801.0" y="487.3" font-size="16.8" text-anchor="end" textLength="40.8" lengthAdjust="spacingAndGlyphs">4000</text><text x="801.0" y="531.1" font-size="16.8" text-anchor="end" textLength="40.8" lengthAdjust="spacingAndGlyphs">3900</text><text x="801.0" y="575.4" font-size="16.8" text-anchor="end" textLength="40.8" lengthAdjust="spacingAndGlyphs">3800</text><text x="801.0" y="619.2" font-size="16.8" text-anchor="end" textLength="40.8" lengthAdjust="spacingAndGlyphs">3700</text><text x="814.5" y="445.9" font-size="19.4" textLength="38.5" lengthAdjust="spacingAndGlyphs">#84</text><g clip-path="url(#c14)"><g fill="#008000"><circle cx="996.5" cy="421.3" r="3.15"/><circle cx="1013.4" cy="420.9" r="3.15"/><circle cx="1030.2" cy="420.4" r="3.15"/><circle cx="1065.0" cy="420.9" r="3.15"/><circle cx="1070.3" cy="421.7" r="3.15"/><circle cx="1103.2" cy="421.3" r="3.15"/><circle cx="1119.8" cy="421.9" r="3.15"/><circle cx="1131.9" cy="420.4" r="3.15"/><circle cx="1154.5" cy="421.7" r="3.15"/></g><g fill="#ff0000"><circle cx="996.5" cy="566.6" r="3.15"/><circle cx="1013.4" cy="566.2" r="3.15"/><circle cx="1030.2" cy="564.7" r="3.15"/><circle cx="1065.0" cy="566.2" r="3.15"/><circle cx="1070.3" cy="565.3" r="3.15"/><circle cx="1103.2" cy="566.6" r="3.15"/><circle cx="1119.8" cy="566.2" r="3.15"/><circle cx="1131.9" cy="565.1" r="3.15"/><circle cx="1154.5" cy="564.7" r="3.15"/></g><g fill="#bfbf00"><circle cx="996.5" cy="655.7" r="3.15"/><circle cx="1013.4" cy="655.7" r="3.15"/><circle cx="1030.2" cy="655.7" r="3.15"/><circle cx="1065.0" cy="655.7" r="3.15"/><circle cx="1070.3" cy="655.7" r="3.15"/><circle cx="1103.2" cy="655.7" r="3.15"/><circle cx="1119.8" cy="654.4" r="3.15"/><circle cx="1131.9" cy="655.7" r="3.15"/><circle cx="1154.5" cy="655.7" r="3.15"/></g><g fill="#0000ff"><circle cx="996.5" cy="615.7" r="3.15"/><circle cx="1013.4" cy="615.1" r="3.15"/><circle cx="1030.2" cy="615.7" r="3.15"/><circle cx="1065.0" cy="617.0" r="3.15"/><circle cx="1070.3" cy="613.8" r="3.15"/><circle cx="1103.2" cy="615.7" r="3.15"/><circle cx="1119.8" cy="615.7" r="3.15"/><circle cx="1131.9" cy="616.1" r="3.15"/><circle cx="1154.5" cy="612.8" r="3.15"/></g></g><rect x="996.5" y="420.5" width="158.0" height="237.0" fill="none" stroke="#000" stroke-width="1.3"/><path d="M996.5 457.5h6M1154.5 457.5h-6M996.5 509.5h6M1154.5 509.5h-6M996.5 561.5h6M1154.5 561.5h-6M996.5 613.5h6M1154.5 613.5h-6M1005.5 420.5v6M1005.5 657.5v-6M1022.5 420.5v6M1022.5 657.5v-6M1039.5 420.5v6M1039.5 657.5v-6M1056.5 420.5v6M1056.5 657.5v-6M1073.5 420.5v6M1073.5 657.5v-6M1090.5 420.5v6M1090.5 657.5v-6M1106.5 420.5v6M1106.5 657.5v-6M1123.5 420.5v6M1123.5 657.5v-6M1140.5 420.5v6M1140.5 657.5v-6" stroke="#111" stroke-width="1" fill="none"/><text x="990.0" y="463.1" font-size="16.8" text-anchor="end" textLength="40.8" lengthAdjust="spacingAndGlyphs">4000</text><text x="990.0" y="515.0" font-size="16.8" text-anchor="end" textLength="40.8" lengthAdjust="spacingAndGlyphs">3500</text><text x="990.0" y="567.3" font-size="16.8" text-anchor="end" textLength="40.8" lengthAdjust="spacingAndGlyphs">3000</text><text x="990.0" y="619.4" font-size="16.8" text-anchor="end" textLength="40.8" lengthAdjust="spacingAndGlyphs">2500</text><text x="1003.5" y="445.9" font-size="19.4" textLength="38.5" lengthAdjust="spacingAndGlyphs">#85</text><g clip-path="url(#c15)"><g fill="#008000"><circle cx="1185.5" cy="421.7" r="3.15"/><circle cx="1202.4" cy="420.9" r="3.15"/><circle cx="1219.2" cy="421.9" r="3.15"/><circle cx="1254.0" cy="422.3" r="3.15"/><circle cx="1259.3" cy="424.2" r="3.15"/><circle cx="1292.2" cy="426.0" r="3.15"/><circle cx="1308.8" cy="426.0" r="3.15"/><circle cx="1320.9" cy="422.8" r="3.15"/><circle cx="1343.5" cy="420.9" r="3.15"/></g><g fill="#ff0000"><circle cx="1185.5" cy="514.7" r="3.15"/><circle cx="1202.4" cy="511.0" r="3.15"/><circle cx="1219.2" cy="512.3" r="3.15"/><circle cx="1254.0" cy="511.9" r="3.15"/><circle cx="1259.3" cy="509.1" r="3.15"/><circle cx="1292.2" cy="508.5" r="3.15"/><circle cx="1308.8" cy="512.8" r="3.15"/><circle cx="1320.9" cy="508.5" r="3.15"/><circle cx="1343.5" cy="513.8" r="3.15"/></g><g fill="#bfbf00"><circle cx="1185.5" cy="595.9" r="3.15"/><circle cx="1202.4" cy="594.9" r="3.15"/><circle cx="1219.2" cy="593.6" r="3.15"/><circle cx="1254.0" cy="587.4" r="3.15"/><circle cx="1259.3" cy="592.7" r="3.15"/><circle cx="1292.2" cy="594.0" r="3.15"/><circle cx="1308.8" cy="595.9" r="3.15"/><circle cx="1320.9" cy="591.7" r="3.15"/><circle cx="1343.5" cy="589.3" r="3.15"/></g><g fill="#0000ff"><circle cx="1185.5" cy="649.6" r="3.15"/><circle cx="1202.4" cy="648.7" r="3.15"/><circle cx="1219.2" cy="648.1" r="3.15"/><circle cx="1254.0" cy="652.8" r="3.15"/><circle cx="1259.3" cy="655.9" r="3.15"/><circle cx="1292.2" cy="651.1" r="3.15"/><circle cx="1308.8" cy="651.0" r="3.15"/><circle cx="1320.9" cy="651.9" r="3.15"/><circle cx="1343.5" cy="649.3" r="3.15"/></g></g><rect x="1185.5" y="420.5" width="158.0" height="237.0" fill="none" stroke="#000" stroke-width="1.3"/><path d="M1185.5 438.5h6M1343.5 438.5h-6M1185.5 469.5h6M1343.5 469.5h-6M1185.5 499.5h6M1343.5 499.5h-6M1185.5 529.5h6M1343.5 529.5h-6M1185.5 559.5h6M1343.5 559.5h-6M1185.5 590.5h6M1343.5 590.5h-6M1185.5 620.5h6M1343.5 620.5h-6M1185.5 650.5h6M1343.5 650.5h-6M1194.5 420.5v6M1194.5 657.5v-6M1211.5 420.5v6M1211.5 657.5v-6M1228.5 420.5v6M1228.5 657.5v-6M1245.5 420.5v6M1245.5 657.5v-6M1262.5 420.5v6M1262.5 657.5v-6M1279.5 420.5v6M1279.5 657.5v-6M1295.5 420.5v6M1295.5 657.5v-6M1312.5 420.5v6M1312.5 657.5v-6M1329.5 420.5v6M1329.5 657.5v-6" stroke="#111" stroke-width="1" fill="none"/><text x="1179.0" y="444.3" font-size="16.8" text-anchor="end" textLength="40.8" lengthAdjust="spacingAndGlyphs">4400</text><text x="1179.0" y="475.0" font-size="16.8" text-anchor="end" textLength="40.8" lengthAdjust="spacingAndGlyphs">4300</text><text x="1179.0" y="505.2" font-size="16.8" text-anchor="end" textLength="40.8" lengthAdjust="spacingAndGlyphs">4200</text><text x="1179.0" y="535.2" font-size="16.8" text-anchor="end" textLength="40.8" lengthAdjust="spacingAndGlyphs">4100</text><text x="1179.0" y="565.0" font-size="16.8" text-anchor="end" textLength="40.8" lengthAdjust="spacingAndGlyphs">4000</text><text x="1179.0" y="596.2" font-size="16.8" text-anchor="end" textLength="40.8" lengthAdjust="spacingAndGlyphs">3900</text><text x="1179.0" y="626.0" font-size="16.8" text-anchor="end" textLength="40.8" lengthAdjust="spacingAndGlyphs">3800</text><text x="1179.0" y="656.2" font-size="16.8" text-anchor="end" textLength="40.8" lengthAdjust="spacingAndGlyphs">3700</text><text x="1192.5" y="445.9" font-size="19.4" textLength="38.5" lengthAdjust="spacingAndGlyphs">#86</text><g clip-path="url(#c16)"><g fill="#008000"><circle cx="1374.5" cy="502.8" r="3.15"/><circle cx="1391.4" cy="503.8" r="3.15"/><circle cx="1408.2" cy="503.0" r="3.15"/><circle cx="1443.0" cy="499.1" r="3.15"/><circle cx="1448.3" cy="508.1" r="3.15"/><circle cx="1481.2" cy="505.9" r="3.15"/><circle cx="1497.8" cy="500.2" r="3.15"/><circle cx="1509.9" cy="504.3" r="3.15"/><circle cx="1532.5" cy="503.4" r="3.15"/></g><g fill="#ff0000"><circle cx="1374.5" cy="478.3" r="3.15"/><circle cx="1391.4" cy="471.3" r="3.15"/><circle cx="1408.2" cy="467.0" r="3.15"/><circle cx="1443.0" cy="501.0" r="3.15"/><circle cx="1448.3" cy="510.4" r="3.15"/><circle cx="1481.2" cy="420.4" r="3.15"/><circle cx="1497.8" cy="428.3" r="3.15"/><circle cx="1509.9" cy="428.9" r="3.15"/><circle cx="1532.5" cy="426.4" r="3.15"/></g><g fill="#bfbf00"><circle cx="1374.5" cy="618.9" r="3.15"/><circle cx="1391.4" cy="615.1" r="3.15"/><circle cx="1408.2" cy="611.0" r="3.15"/><circle cx="1443.0" cy="616.1" r="3.15"/><circle cx="1448.3" cy="615.7" r="3.15"/><circle cx="1481.2" cy="612.3" r="3.15"/><circle cx="1497.8" cy="613.2" r="3.15"/><circle cx="1509.9" cy="611.9" r="3.15"/><circle cx="1532.5" cy="614.7" r="3.15"/></g><g fill="#0000ff"><circle cx="1374.5" cy="650.2" r="3.15"/><circle cx="1391.4" cy="647.2" r="3.15"/><circle cx="1408.2" cy="649.3" r="3.15"/><circle cx="1443.0" cy="645.5" r="3.15"/><circle cx="1448.3" cy="655.3" r="3.15"/><circle cx="1481.2" cy="649.6" r="3.15"/><circle cx="1497.8" cy="640.2" r="3.15"/><circle cx="1509.9" cy="656.2" r="3.15"/><circle cx="1532.5" cy="648.7" r="3.15"/></g></g><rect x="1374.5" y="420.5" width="158.0" height="237.0" fill="none" stroke="#000" stroke-width="1.3"/><path d="M1374.5 459.5h6M1532.5 459.5h-6M1374.5 504.5h6M1532.5 504.5h-6M1374.5 548.5h6M1532.5 548.5h-6M1374.5 593.5h6M1532.5 593.5h-6M1374.5 637.5h6M1532.5 637.5h-6M1383.5 420.5v6M1383.5 657.5v-6M1400.5 420.5v6M1400.5 657.5v-6M1417.5 420.5v6M1417.5 657.5v-6M1434.5 420.5v6M1434.5 657.5v-6M1451.5 420.5v6M1451.5 657.5v-6M1468.5 420.5v6M1468.5 657.5v-6M1484.5 420.5v6M1484.5 657.5v-6M1501.5 420.5v6M1501.5 657.5v-6M1518.5 420.5v6M1518.5 657.5v-6" stroke="#111" stroke-width="1" fill="none"/><text x="1368.0" y="465.4" font-size="16.8" text-anchor="end" textLength="40.8" lengthAdjust="spacingAndGlyphs">6200</text><text x="1368.0" y="510.3" font-size="16.8" text-anchor="end" textLength="40.8" lengthAdjust="spacingAndGlyphs">6000</text><text x="1368.0" y="554.3" font-size="16.8" text-anchor="end" textLength="40.8" lengthAdjust="spacingAndGlyphs">5800</text><text x="1368.0" y="599.0" font-size="16.8" text-anchor="end" textLength="40.8" lengthAdjust="spacingAndGlyphs">5600</text><text x="1368.0" y="643.3" font-size="16.8" text-anchor="end" textLength="40.8" lengthAdjust="spacingAndGlyphs">5400</text><text x="1381.5" y="445.9" font-size="19.4" textLength="38.5" lengthAdjust="spacingAndGlyphs">#87</text><g clip-path="url(#c17)"><g fill="#008000"><circle cx="1564.5" cy="423.2" r="3.15"/><circle cx="1581.3" cy="424.7" r="3.15"/><circle cx="1597.9" cy="426.0" r="3.15"/><circle cx="1632.5" cy="422.6" r="3.15"/><circle cx="1637.8" cy="428.3" r="3.15"/><circle cx="1670.6" cy="427.9" r="3.15"/><circle cx="1687.0" cy="420.4" r="3.15"/><circle cx="1699.0" cy="430.4" r="3.15"/><circle cx="1721.5" cy="421.7" r="3.15"/></g><g fill="#ff0000"><circle cx="1564.5" cy="584.2" r="3.15"/><circle cx="1581.3" cy="587.4" r="3.15"/><circle cx="1597.9" cy="592.1" r="3.15"/><circle cx="1632.5" cy="586.4" r="3.15"/><circle cx="1637.8" cy="589.8" r="3.15"/><circle cx="1670.6" cy="584.9" r="3.15"/><circle cx="1687.0" cy="584.9" r="3.15"/><circle cx="1699.0" cy="581.1" r="3.15"/><circle cx="1721.5" cy="587.4" r="3.15"/></g><g fill="#bfbf00"><circle cx="1564.5" cy="648.1" r="3.15"/><circle cx="1581.3" cy="654.7" r="3.15"/><circle cx="1597.9" cy="656.2" r="3.15"/><circle cx="1632.5" cy="653.0" r="3.15"/><circle cx="1637.8" cy="651.9" r="3.15"/><circle cx="1670.6" cy="655.3" r="3.15"/><circle cx="1687.0" cy="653.8" r="3.15"/><circle cx="1699.0" cy="654.7" r="3.15"/><circle cx="1721.5" cy="651.5" r="3.15"/></g><g fill="#0000ff"><circle cx="1564.5" cy="614.2" r="3.15"/><circle cx="1581.3" cy="615.7" r="3.15"/><circle cx="1597.9" cy="614.2" r="3.15"/><circle cx="1632.5" cy="612.3" r="3.15"/><circle cx="1637.8" cy="615.7" r="3.15"/><circle cx="1670.6" cy="610.4" r="3.15"/><circle cx="1687.0" cy="609.4" r="3.15"/><circle cx="1699.0" cy="614.4" r="3.15"/><circle cx="1721.5" cy="608.7" r="3.15"/></g></g><rect x="1564.5" y="420.5" width="157.0" height="237.0" fill="none" stroke="#000" stroke-width="1.3"/><path d="M1564.5 430.5h6M1721.5 430.5h-6M1564.5 468.5h6M1721.5 468.5h-6M1564.5 506.5h6M1721.5 506.5h-6M1564.5 544.5h6M1721.5 544.5h-6M1564.5 581.5h6M1721.5 581.5h-6M1564.5 619.5h6M1721.5 619.5h-6M1564.5 656.5h6M1721.5 656.5h-6M1573.5 420.5v6M1573.5 657.5v-6M1589.5 420.5v6M1589.5 657.5v-6M1606.5 420.5v6M1606.5 657.5v-6M1623.5 420.5v6M1623.5 657.5v-6M1640.5 420.5v6M1640.5 657.5v-6M1657.5 420.5v6M1657.5 657.5v-6M1674.5 420.5v6M1674.5 657.5v-6M1691.5 420.5v6M1691.5 657.5v-6M1707.5 420.5v6M1707.5 657.5v-6" stroke="#111" stroke-width="1" fill="none"/><text x="1558.0" y="436.3" font-size="16.8" text-anchor="end" textLength="40.8" lengthAdjust="spacingAndGlyphs">1100</text><text x="1558.0" y="474.4" font-size="16.8" text-anchor="end" textLength="40.8" lengthAdjust="spacingAndGlyphs">1000</text><text x="1558.0" y="512.2" font-size="16.8" text-anchor="end" textLength="30.6" lengthAdjust="spacingAndGlyphs">900</text><text x="1558.0" y="550.3" font-size="16.8" text-anchor="end" textLength="30.6" lengthAdjust="spacingAndGlyphs">800</text><text x="1558.0" y="587.7" font-size="16.8" text-anchor="end" textLength="30.6" lengthAdjust="spacingAndGlyphs">700</text><text x="1558.0" y="625.4" font-size="16.8" text-anchor="end" textLength="30.6" lengthAdjust="spacingAndGlyphs">600</text><text x="1558.0" y="662.8" font-size="16.8" text-anchor="end" textLength="30.6" lengthAdjust="spacingAndGlyphs">500</text><text x="1571.5" y="445.9" font-size="19.4" textLength="38.5" lengthAdjust="spacingAndGlyphs">#88</text><g clip-path="url(#c20)"><g fill="#008000"><circle cx="239.5" cy="704.9" r="3.15"/><circle cx="256.4" cy="705.3" r="3.15"/><circle cx="273.2" cy="706.6" r="3.15"/><circle cx="308.0" cy="706.3" r="3.15"/><circle cx="313.3" cy="708.7" r="3.15"/><circle cx="346.2" cy="705.7" r="3.15"/><circle cx="362.8" cy="707.6" r="3.15"/><circle cx="374.9" cy="706.8" r="3.15"/><circle cx="397.5" cy="707.6" r="3.15"/></g><g fill="#ff0000"><circle cx="239.5" cy="792.5" r="3.15"/><circle cx="256.4" cy="793.4" r="3.15"/><circle cx="273.2" cy="794.4" r="3.15"/><circle cx="308.0" cy="796.5" r="3.15"/><circle cx="313.3" cy="797.4" r="3.15"/><circle cx="346.2" cy="796.5" r="3.15"/><circle cx="362.8" cy="796.8" r="3.15"/><circle cx="374.9" cy="797.2" r="3.15"/><circle cx="397.5" cy="795.3" r="3.15"/></g><g fill="#bfbf00"><circle cx="239.5" cy="939.3" r="3.15"/><circle cx="256.4" cy="938.7" r="3.15"/><circle cx="273.2" cy="938.4" r="3.15"/><circle cx="308.0" cy="939.9" r="3.15"/><circle cx="313.3" cy="939.3" r="3.15"/><circle cx="346.2" cy="939.3" r="3.15"/><circle cx="362.8" cy="940.2" r="3.15"/><circle cx="374.9" cy="939.7" r="3.15"/><circle cx="397.5" cy="939.3" r="3.15"/></g><g fill="#0000ff"><circle cx="239.5" cy="886.5" r="3.15"/><circle cx="256.4" cy="887.0" r="3.15"/><circle cx="273.2" cy="888.0" r="3.15"/><circle cx="308.0" cy="887.8" r="3.15"/><circle cx="313.3" cy="886.8" r="3.15"/><circle cx="346.2" cy="888.0" r="3.15"/><circle cx="362.8" cy="887.8" r="3.15"/><circle cx="374.9" cy="885.5" r="3.15"/><circle cx="397.5" cy="888.9" r="3.15"/></g></g><rect x="239.5" y="704.5" width="158.0" height="237.0" fill="none" stroke="#000" stroke-width="1.3"/><path d="M239.5 729.5h6M397.5 729.5h-6M239.5 774.5h6M397.5 774.5h-6M239.5 818.5h6M397.5 818.5h-6M239.5 861.5h6M397.5 861.5h-6M239.5 906.5h6M397.5 906.5h-6M248.5 704.5v6M248.5 941.5v-6M265.5 704.5v6M265.5 941.5v-6M282.5 704.5v6M282.5 941.5v-6M299.5 704.5v6M299.5 941.5v-6M316.5 704.5v6M316.5 941.5v-6M333.5 704.5v6M333.5 941.5v-6M349.5 704.5v6M349.5 941.5v-6M366.5 704.5v6M366.5 941.5v-6M383.5 704.5v6M383.5 941.5v-6" stroke="#111" stroke-width="1" fill="none"/><text x="233.0" y="735.2" font-size="16.8" text-anchor="end" textLength="40.8" lengthAdjust="spacingAndGlyphs">2800</text><text x="233.0" y="780.1" font-size="16.8" text-anchor="end" textLength="40.8" lengthAdjust="spacingAndGlyphs">2700</text><text x="233.0" y="824.1" font-size="16.8" text-anchor="end" textLength="40.8" lengthAdjust="spacingAndGlyphs">2600</text><text x="233.0" y="867.9" font-size="16.8" text-anchor="end" textLength="40.8" lengthAdjust="spacingAndGlyphs">2500</text><text x="233.0" y="912.2" font-size="16.8" text-anchor="end" textLength="40.8" lengthAdjust="spacingAndGlyphs">2400</text><text x="246.5" y="730.6" font-size="19.4" textLength="38.5" lengthAdjust="spacingAndGlyphs">#73</text><g clip-path="url(#c21)"><g fill="#008000"><circle cx="428.5" cy="707.6" r="3.15"/><circle cx="445.4" cy="704.8" r="3.15"/><circle cx="462.2" cy="704.8" r="3.15"/><circle cx="497.0" cy="721.4" r="3.15"/><circle cx="502.3" cy="711.0" r="3.15"/><circle cx="535.2" cy="721.4" r="3.15"/><circle cx="551.8" cy="724.6" r="3.15"/><circle cx="563.9" cy="724.6" r="3.15"/><circle cx="586.5" cy="718.0" r="3.15"/></g><g fill="#ff0000"><circle cx="428.5" cy="876.7" r="3.15"/><circle cx="445.4" cy="866.7" r="3.15"/><circle cx="462.2" cy="876.7" r="3.15"/><circle cx="497.0" cy="876.7" r="3.15"/><circle cx="502.3" cy="866.7" r="3.15"/><circle cx="535.2" cy="876.7" r="3.15"/><circle cx="551.8" cy="876.7" r="3.15"/><circle cx="563.9" cy="870.1" r="3.15"/><circle cx="586.5" cy="876.7" r="3.15"/></g><g fill="#bfbf00"><circle cx="428.5" cy="937.8" r="3.15"/><circle cx="445.4" cy="930.8" r="3.15"/><circle cx="462.2" cy="937.8" r="3.15"/><circle cx="497.0" cy="940.2" r="3.15"/><circle cx="502.3" cy="934.2" r="3.15"/><circle cx="535.2" cy="937.8" r="3.15"/><circle cx="551.8" cy="937.8" r="3.15"/><circle cx="563.9" cy="934.2" r="3.15"/><circle cx="586.5" cy="937.8" r="3.15"/></g><g fill="#0000ff"><circle cx="428.5" cy="795.9" r="3.15"/><circle cx="445.4" cy="788.9" r="3.15"/><circle cx="462.2" cy="792.1" r="3.15"/><circle cx="497.0" cy="785.5" r="3.15"/><circle cx="502.3" cy="788.9" r="3.15"/><circle cx="535.2" cy="778.9" r="3.15"/><circle cx="551.8" cy="788.9" r="3.15"/><circle cx="563.9" cy="771.9" r="3.15"/><circle cx="586.5" cy="785.5" r="3.15"/></g></g><rect x="428.5" y="704.5" width="158.0" height="237.0" fill="none" stroke="#000" stroke-width="1.3"/><path d="M428.5 714.5h6M586.5 714.5h-6M428.5 748.5h6M586.5 748.5h-6M428.5 782.5h6M586.5 782.5h-6M428.5 816.5h6M586.5 816.5h-6M428.5 850.5h6M586.5 850.5h-6M428.5 884.5h6M586.5 884.5h-6M428.5 918.5h6M586.5 918.5h-6M437.5 704.5v6M437.5 941.5v-6M454.5 704.5v6M454.5 941.5v-6M471.5 704.5v6M471.5 941.5v-6M488.5 704.5v6M488.5 941.5v-6M505.5 704.5v6M505.5 941.5v-6M522.5 704.5v6M522.5 941.5v-6M538.5 704.5v6M538.5 941.5v-6M555.5 704.5v6M555.5 941.5v-6M572.5 704.5v6M572.5 941.5v-6" stroke="#111" stroke-width="1" fill="none"/><text x="422.0" y="720.3" font-size="16.8" text-anchor="end" textLength="40.8" lengthAdjust="spacingAndGlyphs">2340</text><text x="422.0" y="754.3" font-size="16.8" text-anchor="end" textLength="40.8" lengthAdjust="spacingAndGlyphs">2330</text><text x="422.0" y="788.1" font-size="16.8" text-anchor="end" textLength="40.8" lengthAdjust="spacingAndGlyphs">2320</text><text x="422.0" y="822.2" font-size="16.8" text-anchor="end" textLength="40.8" lengthAdjust="spacingAndGlyphs">2310</text><text x="422.0" y="856.2" font-size="16.8" text-anchor="end" textLength="40.8" lengthAdjust="spacingAndGlyphs">2300</text><text x="422.0" y="890.2" font-size="16.8" text-anchor="end" textLength="40.8" lengthAdjust="spacingAndGlyphs">2290</text><text x="422.0" y="924.1" font-size="16.8" text-anchor="end" textLength="40.8" lengthAdjust="spacingAndGlyphs">2280</text><text x="435.5" y="730.6" font-size="19.4" textLength="38.5" lengthAdjust="spacingAndGlyphs">#74</text><g clip-path="url(#c22)"><g fill="#008000"><circle cx="617.5" cy="705.3" r="3.15"/><circle cx="634.4" cy="704.8" r="3.15"/><circle cx="651.2" cy="704.8" r="3.15"/><circle cx="686.0" cy="751.0" r="3.15"/><circle cx="691.3" cy="751.0" r="3.15"/><circle cx="724.2" cy="742.5" r="3.15"/><circle cx="740.8" cy="738.3" r="3.15"/><circle cx="752.9" cy="738.3" r="3.15"/><circle cx="775.5" cy="738.3" r="3.15"/></g><g fill="#ff0000"><circle cx="617.5" cy="831.4" r="3.15"/><circle cx="634.4" cy="839.9" r="3.15"/><circle cx="651.2" cy="844.0" r="3.15"/><circle cx="686.0" cy="861.0" r="3.15"/><circle cx="691.3" cy="852.5" r="3.15"/><circle cx="724.2" cy="861.0" r="3.15"/><circle cx="740.8" cy="861.0" r="3.15"/><circle cx="752.9" cy="844.0" r="3.15"/><circle cx="775.5" cy="852.5" r="3.15"/></g><g fill="#bfbf00"><circle cx="617.5" cy="932.7" r="3.15"/><circle cx="634.4" cy="924.2" r="3.15"/><circle cx="651.2" cy="924.2" r="3.15"/><circle cx="686.0" cy="937.0" r="3.15"/><circle cx="691.3" cy="932.7" r="3.15"/><circle cx="724.2" cy="940.2" r="3.15"/><circle cx="740.8" cy="911.6" r="3.15"/><circle cx="752.9" cy="932.7" r="3.15"/><circle cx="775.5" cy="928.5" r="3.15"/></g><g fill="#0000ff"><circle cx="617.5" cy="827.0" r="3.15"/><circle cx="634.4" cy="835.5" r="3.15"/><circle cx="651.2" cy="827.0" r="3.15"/><circle cx="686.0" cy="856.7" r="3.15"/><circle cx="691.3" cy="861.0" r="3.15"/><circle cx="724.2" cy="848.2" r="3.15"/><circle cx="740.8" cy="848.2" r="3.15"/><circle cx="752.9" cy="844.0" r="3.15"/><circle cx="775.5" cy="848.2" r="3.15"/></g></g><rect x="617.5" y="704.5" width="158.0" height="237.0" fill="none" stroke="#000" stroke-width="1.3"/><path d="M617.5 734.5h6M775.5 734.5h-6M617.5 776.5h6M775.5 776.5h-6M617.5 818.5h6M775.5 818.5h-6M617.5 860.5h6M775.5 860.5h-6M617.5 903.5h6M775.5 903.5h-6M626.5 704.5v6M626.5 941.5v-6M643.5 704.5v6M643.5 941.5v-6M660.5 704.5v6M660.5 941.5v-6M677.5 704.5v6M677.5 941.5v-6M694.5 704.5v6M694.5 941.5v-6M711.5 704.5v6M711.5 941.5v-6M727.5 704.5v6M727.5 941.5v-6M744.5 704.5v6M744.5 941.5v-6M761.5 704.5v6M761.5 941.5v-6" stroke="#111" stroke-width="1" fill="none"/><text x="611.0" y="740.0" font-size="16.8" text-anchor="end" textLength="40.8" lengthAdjust="spacingAndGlyphs">2330</text><text x="611.0" y="782.0" font-size="16.8" text-anchor="end" textLength="40.8" lengthAdjust="spacingAndGlyphs">2320</text><text x="611.0" y="824.9" font-size="16.8" text-anchor="end" textLength="40.8" lengthAdjust="spacingAndGlyphs">2310</text><text x="611.0" y="866.9" font-size="16.8" text-anchor="end" textLength="40.8" lengthAdjust="spacingAndGlyphs">2300</text><text x="611.0" y="909.0" font-size="16.8" text-anchor="end" textLength="40.8" lengthAdjust="spacingAndGlyphs">2290</text><text x="624.5" y="730.6" font-size="19.4" textLength="38.5" lengthAdjust="spacingAndGlyphs">#75</text><g clip-path="url(#c23)"><g fill="#008000"><circle cx="807.5" cy="707.6" r="3.15"/><circle cx="824.3" cy="704.8" r="3.15"/><circle cx="840.9" cy="706.3" r="3.15"/><circle cx="875.5" cy="705.3" r="3.15"/><circle cx="880.8" cy="707.2" r="3.15"/><circle cx="913.6" cy="705.7" r="3.15"/><circle cx="930.0" cy="705.7" r="3.15"/><circle cx="942.0" cy="704.4" r="3.15"/><circle cx="964.5" cy="705.7" r="3.15"/></g><g fill="#ff0000"><circle cx="807.5" cy="778.0" r="3.15"/><circle cx="824.3" cy="778.3" r="3.15"/><circle cx="840.9" cy="784.2" r="3.15"/><circle cx="875.5" cy="776.6" r="3.15"/><circle cx="880.8" cy="779.3" r="3.15"/><circle cx="913.6" cy="772.7" r="3.15"/><circle cx="930.0" cy="770.4" r="3.15"/><circle cx="942.0" cy="764.2" r="3.15"/><circle cx="964.5" cy="768.9" r="3.15"/></g><g fill="#bfbf00"><circle cx="807.5" cy="934.6" r="3.15"/><circle cx="824.3" cy="938.4" r="3.15"/><circle cx="840.9" cy="940.2" r="3.15"/><circle cx="875.5" cy="937.4" r="3.15"/><circle cx="880.8" cy="931.4" r="3.15"/><circle cx="913.6" cy="929.3" r="3.15"/><circle cx="930.0" cy="927.4" r="3.15"/><circle cx="942.0" cy="925.1" r="3.15"/><circle cx="964.5" cy="925.7" r="3.15"/></g><g fill="#0000ff"><circle cx="807.5" cy="885.1" r="3.15"/><circle cx="824.3" cy="891.8" r="3.15"/><circle cx="840.9" cy="883.1" r="3.15"/><circle cx="875.5" cy="884.0" r="3.15"/><circle cx="880.8" cy="888.0" r="3.15"/><circle cx="913.6" cy="883.1" r="3.15"/><circle cx="930.0" cy="886.8" r="3.15"/><circle cx="942.0" cy="880.8" r="3.15"/><circle cx="964.5" cy="892.1" r="3.15"/></g></g><rect x="807.5" y="704.5" width="157.0" height="237.0" fill="none" stroke="#000" stroke-width="1.3"/><path d="M807.5 729.5h6M964.5 729.5h-6M807.5 760.5h6M964.5 760.5h-6M807.5 791.5h6M964.5 791.5h-6M807.5 822.5h6M964.5 822.5h-6M807.5 854.5h6M964.5 854.5h-6M807.5 885.5h6M964.5 885.5h-6M807.5 916.5h6M964.5 916.5h-6M816.5 704.5v6M816.5 941.5v-6M832.5 704.5v6M832.5 941.5v-6M849.5 704.5v6M849.5 941.5v-6M866.5 704.5v6M866.5 941.5v-6M883.5 704.5v6M883.5 941.5v-6M900.5 704.5v6M900.5 941.5v-6M917.5 704.5v6M917.5 941.5v-6M934.5 704.5v6M934.5 941.5v-6M950.5 704.5v6M950.5 941.5v-6" stroke="#111" stroke-width="1" fill="none"/><text x="801.0" y="735.2" font-size="16.8" text-anchor="end" textLength="40.8" lengthAdjust="spacingAndGlyphs">2200</text><text x="801.0" y="766.4" font-size="16.8" text-anchor="end" textLength="40.8" lengthAdjust="spacingAndGlyphs">2100</text><text x="801.0" y="797.1" font-size="16.8" text-anchor="end" textLength="40.8" lengthAdjust="spacingAndGlyphs">2000</text><text x="801.0" y="828.3" font-size="16.8" text-anchor="end" textLength="40.8" lengthAdjust="spacingAndGlyphs">1900</text><text x="801.0" y="860.0" font-size="16.8" text-anchor="end" textLength="40.8" lengthAdjust="spacingAndGlyphs">1800</text><text x="801.0" y="891.1" font-size="16.8" text-anchor="end" textLength="40.8" lengthAdjust="spacingAndGlyphs">1700</text><text x="801.0" y="922.2" font-size="16.8" text-anchor="end" textLength="40.8" lengthAdjust="spacingAndGlyphs">1600</text><text x="814.5" y="730.6" font-size="19.4" textLength="38.5" lengthAdjust="spacingAndGlyphs">#76</text><g clip-path="url(#c24)"><g fill="#008000"><circle cx="996.5" cy="713.2" r="3.15"/><circle cx="1013.4" cy="715.7" r="3.15"/><circle cx="1030.2" cy="717.0" r="3.15"/><circle cx="1065.0" cy="705.7" r="3.15"/><circle cx="1070.3" cy="706.6" r="3.15"/><circle cx="1103.2" cy="707.2" r="3.15"/><circle cx="1119.8" cy="704.8" r="3.15"/><circle cx="1131.9" cy="710.4" r="3.15"/><circle cx="1154.5" cy="709.1" r="3.15"/></g><g fill="#ff0000"><circle cx="996.5" cy="902.1" r="3.15"/><circle cx="1013.4" cy="898.7" r="3.15"/><circle cx="1030.2" cy="896.5" r="3.15"/><circle cx="1065.0" cy="897.8" r="3.15"/><circle cx="1070.3" cy="895.3" r="3.15"/><circle cx="1103.2" cy="890.2" r="3.15"/><circle cx="1119.8" cy="896.3" r="3.15"/><circle cx="1131.9" cy="896.8" r="3.15"/><circle cx="1154.5" cy="894.0" r="3.15"/></g><g fill="#bfbf00"><circle cx="996.5" cy="939.3" r="3.15"/><circle cx="1013.4" cy="939.9" r="3.15"/><circle cx="1030.2" cy="938.4" r="3.15"/><circle cx="1065.0" cy="940.2" r="3.15"/><circle cx="1070.3" cy="936.8" r="3.15"/><circle cx="1103.2" cy="936.1" r="3.15"/><circle cx="1119.8" cy="937.8" r="3.15"/><circle cx="1131.9" cy="937.4" r="3.15"/><circle cx="1154.5" cy="936.8" r="3.15"/></g><g fill="#0000ff"><circle cx="996.5" cy="900.1" r="3.15"/><circle cx="1013.4" cy="903.1" r="3.15"/><circle cx="1030.2" cy="902.5" r="3.15"/><circle cx="1065.0" cy="903.8" r="3.15"/><circle cx="1070.3" cy="905.0" r="3.15"/><circle cx="1103.2" cy="901.0" r="3.15"/><circle cx="1119.8" cy="903.4" r="3.15"/><circle cx="1131.9" cy="903.1" r="3.15"/><circle cx="1154.5" cy="901.9" r="3.15"/></g></g><rect x="996.5" y="704.5" width="158.0" height="237.0" fill="none" stroke="#000" stroke-width="1.3"/><path d="M996.5 729.5h6M1154.5 729.5h-6M996.5 760.5h6M1154.5 760.5h-6M996.5 790.5h6M1154.5 790.5h-6M996.5 820.5h6M1154.5 820.5h-6M996.5 851.5h6M1154.5 851.5h-6M996.5 882.5h6M1154.5 882.5h-6M996.5 912.5h6M1154.5 912.5h-6M1005.5 704.5v6M1005.5 941.5v-6M1022.5 704.5v6M1022.5 941.5v-6M1039.5 704.5v6M1039.5 941.5v-6M1056.5 704.5v6M1056.5 941.5v-6M1073.5 704.5v6M1073.5 941.5v-6M1090.5 704.5v6M1090.5 941.5v-6M1106.5 704.5v6M1106.5 941.5v-6M1123.5 704.5v6M1123.5 941.5v-6M1140.5 704.5v6M1140.5 941.5v-6" stroke="#111" stroke-width="1" fill="none"/><text x="990.0" y="735.8" font-size="16.8" text-anchor="end" textLength="30.6" lengthAdjust="spacingAndGlyphs">900</text><text x="990.0" y="766.0" font-size="16.8" text-anchor="end" textLength="30.6" lengthAdjust="spacingAndGlyphs">800</text><text x="990.0" y="796.2" font-size="16.8" text-anchor="end" textLength="30.6" lengthAdjust="spacingAndGlyphs">700</text><text x="990.0" y="826.9" font-size="16.8" text-anchor="end" textLength="30.6" lengthAdjust="spacingAndGlyphs">600</text><text x="990.0" y="857.1" font-size="16.8" text-anchor="end" textLength="30.6" lengthAdjust="spacingAndGlyphs">500</text><text x="990.0" y="888.1" font-size="16.8" text-anchor="end" textLength="30.6" lengthAdjust="spacingAndGlyphs">400</text><text x="990.0" y="918.3" font-size="16.8" text-anchor="end" textLength="30.6" lengthAdjust="spacingAndGlyphs">300</text><text x="1003.5" y="730.6" font-size="19.4" textLength="38.5" lengthAdjust="spacingAndGlyphs">#77</text><g clip-path="url(#c25)"><g fill="#008000"><circle cx="1185.5" cy="707.6" r="3.15"/><circle cx="1202.4" cy="704.8" r="3.15"/><circle cx="1219.2" cy="706.3" r="3.15"/><circle cx="1254.0" cy="709.5" r="3.15"/><circle cx="1259.3" cy="707.6" r="3.15"/><circle cx="1292.2" cy="707.6" r="3.15"/><circle cx="1308.8" cy="704.8" r="3.15"/><circle cx="1320.9" cy="704.8" r="3.15"/><circle cx="1343.5" cy="705.7" r="3.15"/></g><g fill="#ff0000"><circle cx="1185.5" cy="734.9" r="3.15"/><circle cx="1202.4" cy="739.9" r="3.15"/><circle cx="1219.2" cy="730.2" r="3.15"/><circle cx="1254.0" cy="762.9" r="3.15"/><circle cx="1259.3" cy="744.9" r="3.15"/><circle cx="1292.2" cy="728.5" r="3.15"/><circle cx="1308.8" cy="731.7" r="3.15"/><circle cx="1320.9" cy="736.8" r="3.15"/><circle cx="1343.5" cy="733.6" r="3.15"/></g><g fill="#bfbf00"><circle cx="1185.5" cy="832.7" r="3.15"/><circle cx="1202.4" cy="832.7" r="3.15"/><circle cx="1219.2" cy="842.5" r="3.15"/><circle cx="1254.0" cy="923.3" r="3.15"/><circle cx="1259.3" cy="872.9" r="3.15"/><circle cx="1292.2" cy="788.7" r="3.15"/><circle cx="1308.8" cy="788.7" r="3.15"/><circle cx="1320.9" cy="818.0" r="3.15"/><circle cx="1343.5" cy="786.8" r="3.15"/></g><g fill="#0000ff"><circle cx="1185.5" cy="933.1" r="3.15"/><circle cx="1202.4" cy="921.8" r="3.15"/><circle cx="1219.2" cy="918.5" r="3.15"/><circle cx="1254.0" cy="934.6" r="3.15"/><circle cx="1259.3" cy="933.1" r="3.15"/><circle cx="1292.2" cy="910.4" r="3.15"/><circle cx="1308.8" cy="897.4" r="3.15"/><circle cx="1320.9" cy="940.2" r="3.15"/><circle cx="1343.5" cy="924.2" r="3.15"/></g></g><rect x="1185.5" y="704.5" width="158.0" height="237.0" fill="none" stroke="#000" stroke-width="1.3"/><path d="M1185.5 723.5h6M1343.5 723.5h-6M1185.5 756.5h6M1343.5 756.5h-6M1185.5 788.5h6M1343.5 788.5h-6M1185.5 821.5h6M1343.5 821.5h-6M1185.5 854.5h6M1343.5 854.5h-6M1185.5 886.5h6M1343.5 886.5h-6M1185.5 918.5h6M1343.5 918.5h-6M1194.5 704.5v6M1194.5 941.5v-6M1211.5 704.5v6M1211.5 941.5v-6M1228.5 704.5v6M1228.5 941.5v-6M1245.5 704.5v6M1245.5 941.5v-6M1262.5 704.5v6M1262.5 941.5v-6M1279.5 704.5v6M1279.5 941.5v-6M1295.5 704.5v6M1295.5 941.5v-6M1312.5 704.5v6M1312.5 941.5v-6M1329.5 704.5v6M1329.5 941.5v-6" stroke="#111" stroke-width="1" fill="none"/><text x="1179.0" y="729.8" font-size="16.8" text-anchor="end" textLength="40.8" lengthAdjust="spacingAndGlyphs">2280</text><text x="1179.0" y="762.2" font-size="16.8" text-anchor="end" textLength="40.8" lengthAdjust="spacingAndGlyphs">2260</text><text x="1179.0" y="794.9" font-size="16.8" text-anchor="end" textLength="40.8" lengthAdjust="spacingAndGlyphs">2240</text><text x="1179.0" y="827.3" font-size="16.8" text-anchor="end" textLength="40.8" lengthAdjust="spacingAndGlyphs">2220</text><text x="1179.0" y="860.0" font-size="16.8" text-anchor="end" textLength="40.8" lengthAdjust="spacingAndGlyphs">2200</text><text x="1179.0" y="892.4" font-size="16.8" text-anchor="end" textLength="40.8" lengthAdjust="spacingAndGlyphs">2180</text><text x="1179.0" y="924.9" font-size="16.8" text-anchor="end" textLength="40.8" lengthAdjust="spacingAndGlyphs">2160</text><text x="1192.5" y="730.6" font-size="19.4" textLength="38.5" lengthAdjust="spacingAndGlyphs">#78</text><g clip-path="url(#c26)"><g fill="#008000"><circle cx="1374.5" cy="706.8" r="3.15"/><circle cx="1391.4" cy="704.8" r="3.15"/><circle cx="1408.2" cy="706.3" r="3.15"/><circle cx="1443.0" cy="712.3" r="3.15"/><circle cx="1448.3" cy="710.6" r="3.15"/><circle cx="1481.2" cy="704.8" r="3.15"/><circle cx="1497.8" cy="705.3" r="3.15"/><circle cx="1509.9" cy="705.7" r="3.15"/><circle cx="1532.5" cy="705.7" r="3.15"/></g><g fill="#ff0000"><circle cx="1374.5" cy="778.9" r="3.15"/><circle cx="1391.4" cy="774.2" r="3.15"/><circle cx="1408.2" cy="779.3" r="3.15"/><circle cx="1443.0" cy="794.4" r="3.15"/><circle cx="1448.3" cy="787.0" r="3.15"/><circle cx="1481.2" cy="763.4" r="3.15"/><circle cx="1497.8" cy="765.1" r="3.15"/><circle cx="1509.9" cy="772.7" r="3.15"/><circle cx="1532.5" cy="766.1" r="3.15"/></g><g fill="#bfbf00"><circle cx="1374.5" cy="935.1" r="3.15"/><circle cx="1391.4" cy="924.2" r="3.15"/><circle cx="1408.2" cy="931.2" r="3.15"/><circle cx="1443.0" cy="940.2" r="3.15"/><circle cx="1448.3" cy="939.9" r="3.15"/><circle cx="1481.2" cy="919.9" r="3.15"/><circle cx="1497.8" cy="923.3" r="3.15"/><circle cx="1509.9" cy="926.7" r="3.15"/><circle cx="1532.5" cy="917.6" r="3.15"/></g><g fill="#0000ff"><circle cx="1374.5" cy="833.6" r="3.15"/><circle cx="1391.4" cy="835.5" r="3.15"/><circle cx="1408.2" cy="836.5" r="3.15"/><circle cx="1443.0" cy="833.3" r="3.15"/><circle cx="1448.3" cy="836.5" r="3.15"/><circle cx="1481.2" cy="834.6" r="3.15"/><circle cx="1497.8" cy="834.6" r="3.15"/><circle cx="1509.9" cy="834.6" r="3.15"/><circle cx="1532.5" cy="835.1" r="3.15"/></g></g><rect x="1374.5" y="704.5" width="158.0" height="237.0" fill="none" stroke="#000" stroke-width="1.3"/><path d="M1374.5 714.5h6M1532.5 714.5h-6M1374.5 750.5h6M1532.5 750.5h-6M1374.5 785.5h6M1532.5 785.5h-6M1374.5 820.5h6M1532.5 820.5h-6M1374.5 856.5h6M1532.5 856.5h-6M1374.5 891.5h6M1532.5 891.5h-6M1374.5 927.5h6M1532.5 927.5h-6M1383.5 704.5v6M1383.5 941.5v-6M1400.5 704.5v6M1400.5 941.5v-6M1417.5 704.5v6M1417.5 941.5v-6M1434.5 704.5v6M1434.5 941.5v-6M1451.5 704.5v6M1451.5 941.5v-6M1468.5 704.5v6M1468.5 941.5v-6M1484.5 704.5v6M1484.5 941.5v-6M1501.5 704.5v6M1501.5 941.5v-6M1518.5 704.5v6M1518.5 941.5v-6" stroke="#111" stroke-width="1" fill="none"/><text x="1368.0" y="720.3" font-size="16.8" text-anchor="end" textLength="40.8" lengthAdjust="spacingAndGlyphs">2200</text><text x="1368.0" y="756.0" font-size="16.8" text-anchor="end" textLength="40.8" lengthAdjust="spacingAndGlyphs">2000</text><text x="1368.0" y="791.5" font-size="16.8" text-anchor="end" textLength="40.8" lengthAdjust="spacingAndGlyphs">1800</text><text x="1368.0" y="826.9" font-size="16.8" text-anchor="end" textLength="40.8" lengthAdjust="spacingAndGlyphs">1600</text><text x="1368.0" y="862.2" font-size="16.8" text-anchor="end" textLength="40.8" lengthAdjust="spacingAndGlyphs">1400</text><text x="1368.0" y="897.1" font-size="16.8" text-anchor="end" textLength="40.8" lengthAdjust="spacingAndGlyphs">1200</text><text x="1368.0" y="933.0" font-size="16.8" text-anchor="end" textLength="40.8" lengthAdjust="spacingAndGlyphs">1000</text><text x="1381.5" y="730.6" font-size="19.4" textLength="38.5" lengthAdjust="spacingAndGlyphs">#79</text><g clip-path="url(#c27)"><g fill="#008000"><circle cx="1564.5" cy="708.7" r="3.15"/><circle cx="1581.3" cy="707.2" r="3.15"/><circle cx="1597.9" cy="704.8" r="3.15"/><circle cx="1632.5" cy="704.8" r="3.15"/><circle cx="1637.8" cy="704.8" r="3.15"/><circle cx="1670.6" cy="704.8" r="3.15"/><circle cx="1687.0" cy="707.2" r="3.15"/><circle cx="1699.0" cy="705.3" r="3.15"/><circle cx="1721.5" cy="706.8" r="3.15"/></g><g fill="#ff0000"><circle cx="1564.5" cy="895.5" r="3.15"/><circle cx="1581.3" cy="893.6" r="3.15"/><circle cx="1597.9" cy="893.1" r="3.15"/><circle cx="1632.5" cy="894.4" r="3.15"/><circle cx="1637.8" cy="894.6" r="3.15"/><circle cx="1670.6" cy="893.4" r="3.15"/><circle cx="1687.0" cy="892.7" r="3.15"/><circle cx="1699.0" cy="892.1" r="3.15"/><circle cx="1721.5" cy="893.4" r="3.15"/></g><g fill="#bfbf00"><circle cx="1564.5" cy="939.9" r="3.15"/><circle cx="1581.3" cy="939.9" r="3.15"/><circle cx="1597.9" cy="939.9" r="3.15"/><circle cx="1632.5" cy="939.9" r="3.15"/><circle cx="1637.8" cy="939.9" r="3.15"/><circle cx="1670.6" cy="939.9" r="3.15"/><circle cx="1687.0" cy="939.9" r="3.15"/><circle cx="1699.0" cy="939.9" r="3.15"/><circle cx="1721.5" cy="939.9" r="3.15"/></g><g fill="#0000ff"><circle cx="1564.5" cy="863.4" r="3.15"/><circle cx="1581.3" cy="865.1" r="3.15"/><circle cx="1597.9" cy="863.8" r="3.15"/><circle cx="1632.5" cy="861.0" r="3.15"/><circle cx="1637.8" cy="869.1" r="3.15"/><circle cx="1670.6" cy="871.0" r="3.15"/><circle cx="1687.0" cy="866.7" r="3.15"/><circle cx="1699.0" cy="861.4" r="3.15"/><circle cx="1721.5" cy="869.5" r="3.15"/></g></g><rect x="1564.5" y="704.5" width="157.0" height="237.0" fill="none" stroke="#000" stroke-width="1.3"/><path d="M1564.5 712.5h6M1721.5 712.5h-6M1564.5 751.5h6M1721.5 751.5h-6M1564.5 790.5h6M1721.5 790.5h-6M1564.5 828.5h6M1721.5 828.5h-6M1564.5 867.5h6M1721.5 867.5h-6M1564.5 905.5h6M1721.5 905.5h-6M1573.5 704.5v6M1573.5 941.5v-6M1589.5 704.5v6M1589.5 941.5v-6M1606.5 704.5v6M1606.5 941.5v-6M1623.5 704.5v6M1623.5 941.5v-6M1640.5 704.5v6M1640.5 941.5v-6M1657.5 704.5v6M1657.5 941.5v-6M1674.5 704.5v6M1674.5 941.5v-6M1691.5 704.5v6M1691.5 941.5v-6M1707.5 704.5v6M1707.5 941.5v-6" stroke="#111" stroke-width="1" fill="none"/><text x="1558.0" y="718.8" font-size="16.8" text-anchor="end" textLength="40.8" lengthAdjust="spacingAndGlyphs">2800</text><text x="1558.0" y="757.1" font-size="16.8" text-anchor="end" textLength="40.8" lengthAdjust="spacingAndGlyphs">2600</text><text x="1558.0" y="796.2" font-size="16.8" text-anchor="end" textLength="40.8" lengthAdjust="spacingAndGlyphs">2400</text><text x="1558.0" y="834.3" font-size="16.8" text-anchor="end" textLength="40.8" lengthAdjust="spacingAndGlyphs">2200</text><text x="1558.0" y="873.2" font-size="16.8" text-anchor="end" textLength="40.8" lengthAdjust="spacingAndGlyphs">2000</text><text x="1558.0" y="911.3" font-size="16.8" text-anchor="end" textLength="40.8" lengthAdjust="spacingAndGlyphs">1800</text><text x="1571.5" y="730.6" font-size="19.4" textLength="38.5" lengthAdjust="spacingAndGlyphs">#80</text><g clip-path="url(#c30)"><g fill="#008000"><circle cx="239.5" cy="1064.9" r="3.15"/><circle cx="256.4" cy="1066.4" r="3.15"/><circle cx="273.2" cy="1064.9" r="3.15"/><circle cx="308.0" cy="1073.9" r="3.15"/><circle cx="313.3" cy="1077.5" r="3.15"/><circle cx="346.2" cy="1075.6" r="3.15"/><circle cx="362.8" cy="1073.9" r="3.15"/><circle cx="374.9" cy="1072.0" r="3.15"/><circle cx="397.5" cy="1070.1" r="3.15"/></g><g fill="#ff0000"><circle cx="239.5" cy="1175.2" r="3.15"/><circle cx="256.4" cy="1175.2" r="3.15"/><circle cx="273.2" cy="1169.6" r="3.15"/><circle cx="308.0" cy="1180.5" r="3.15"/><circle cx="313.3" cy="1176.8" r="3.15"/><circle cx="346.2" cy="1178.6" r="3.15"/><circle cx="362.8" cy="1180.5" r="3.15"/><circle cx="374.9" cy="1180.5" r="3.15"/><circle cx="397.5" cy="1175.2" r="3.15"/></g><g fill="#bfbf00"><circle cx="239.5" cy="1222.0" r="3.15"/><circle cx="256.4" cy="1223.7" r="3.15"/><circle cx="273.2" cy="1222.0" r="3.15"/><circle cx="308.0" cy="1222.0" r="3.15"/><circle cx="313.3" cy="1224.9" r="3.15"/><circle cx="346.2" cy="1224.9" r="3.15"/><circle cx="362.8" cy="1223.7" r="3.15"/><circle cx="374.9" cy="1224.9" r="3.15"/><circle cx="397.5" cy="1223.7" r="3.15"/></g><g fill="#0000ff"><circle cx="239.5" cy="996.0" r="3.15"/><circle cx="256.4" cy="992.2" r="3.15"/><circle cx="273.2" cy="999.4" r="3.15"/><circle cx="308.0" cy="994.1" r="3.15"/><circle cx="313.3" cy="997.9" r="3.15"/><circle cx="346.2" cy="992.2" r="3.15"/><circle cx="362.8" cy="1003.2" r="3.15"/><circle cx="374.9" cy="989.4" r="3.15"/><circle cx="397.5" cy="997.9" r="3.15"/></g></g><rect x="239.5" y="989.5" width="158.0" height="237.0" fill="none" stroke="#000" stroke-width="1.3"/><path d="M239.5 1012.5h6M397.5 1012.5h-6M239.5 1048.5h6M397.5 1048.5h-6M239.5 1085.5h6M397.5 1085.5h-6M239.5 1120.5h6M397.5 1120.5h-6M239.5 1157.5h6M397.5 1157.5h-6M239.5 1193.5h6M397.5 1193.5h-6M248.5 989.5v6M248.5 1226.5v-6M265.5 989.5v6M265.5 1226.5v-6M282.5 989.5v6M282.5 1226.5v-6M299.5 989.5v6M299.5 1226.5v-6M316.5 989.5v6M316.5 1226.5v-6M333.5 989.5v6M333.5 1226.5v-6M349.5 989.5v6M349.5 1226.5v-6M366.5 989.5v6M366.5 1226.5v-6M383.5 989.5v6M383.5 1226.5v-6" stroke="#111" stroke-width="1" fill="none"/><text x="233.0" y="1018.5" font-size="16.8" text-anchor="end" textLength="40.8" lengthAdjust="spacingAndGlyphs">2540</text><text x="233.0" y="1054.4" font-size="16.8" text-anchor="end" textLength="40.8" lengthAdjust="spacingAndGlyphs">2520</text><text x="233.0" y="1091.0" font-size="16.8" text-anchor="end" textLength="40.8" lengthAdjust="spacingAndGlyphs">2500</text><text x="233.0" y="1126.8" font-size="16.8" text-anchor="end" textLength="40.8" lengthAdjust="spacingAndGlyphs">2480</text><text x="233.0" y="1163.3" font-size="16.8" text-anchor="end" textLength="40.8" lengthAdjust="spacingAndGlyphs">2460</text><text x="233.0" y="1199.1" font-size="16.8" text-anchor="end" textLength="40.8" lengthAdjust="spacingAndGlyphs">2440</text><text x="246.5" y="1014.8" font-size="19.4" textLength="38.5" lengthAdjust="spacingAndGlyphs">#65</text><text transform="translate(248.2 1274.5) rotate(-45)" x="0" y="4.1" font-size="16.8" text-anchor="middle" textLength="109" lengthAdjust="spacingAndGlyphs">May 03 2013</text><text transform="translate(265.2 1274.5) rotate(-45)" x="0" y="4.1" font-size="16.8" text-anchor="middle" textLength="109" lengthAdjust="spacingAndGlyphs">May 06 2013</text><text transform="translate(282.1 1274.5) rotate(-45)" x="0" y="4.1" font-size="16.8" text-anchor="middle" textLength="109" lengthAdjust="spacingAndGlyphs">May 09 2013</text><text transform="translate(299.1 1274.5) rotate(-45)" x="0" y="4.1" font-size="16.8" text-anchor="middle" textLength="109" lengthAdjust="spacingAndGlyphs">May 12 2013</text><text transform="translate(316.0 1274.5) rotate(-45)" x="0" y="4.1" font-size="16.8" text-anchor="middle" textLength="109" lengthAdjust="spacingAndGlyphs">May 15 2013</text><text transform="translate(333.0 1274.5) rotate(-45)" x="0" y="4.1" font-size="16.8" text-anchor="middle" textLength="109" lengthAdjust="spacingAndGlyphs">May 18 2013</text><text transform="translate(350.0 1274.5) rotate(-45)" x="0" y="4.1" font-size="16.8" text-anchor="middle" textLength="109" lengthAdjust="spacingAndGlyphs">May 21 2013</text><text transform="translate(366.9 1274.5) rotate(-45)" x="0" y="4.1" font-size="16.8" text-anchor="middle" textLength="109" lengthAdjust="spacingAndGlyphs">May 24 2013</text><text transform="translate(383.9 1274.5) rotate(-45)" x="0" y="4.1" font-size="16.8" text-anchor="middle" textLength="109" lengthAdjust="spacingAndGlyphs">May 27 2013</text><g clip-path="url(#c31)"><g fill="#008000"><circle cx="428.5" cy="1039.0" r="3.15"/><circle cx="445.4" cy="1038.1" r="3.15"/><circle cx="462.2" cy="1039.9" r="3.15"/><circle cx="497.0" cy="1039.9" r="3.15"/><circle cx="502.3" cy="1042.6" r="3.15"/><circle cx="535.2" cy="1039.9" r="3.15"/><circle cx="551.8" cy="1039.8" r="3.15"/><circle cx="563.9" cy="1041.3" r="3.15"/><circle cx="586.5" cy="1039.4" r="3.15"/></g><g fill="#ff0000"><circle cx="428.5" cy="1154.5" r="3.15"/><circle cx="445.4" cy="1154.9" r="3.15"/><circle cx="462.2" cy="1154.9" r="3.15"/><circle cx="497.0" cy="1155.1" r="3.15"/><circle cx="502.3" cy="1155.8" r="3.15"/><circle cx="535.2" cy="1154.9" r="3.15"/><circle cx="551.8" cy="1153.9" r="3.15"/><circle cx="563.9" cy="1155.1" r="3.15"/><circle cx="586.5" cy="1155.8" r="3.15"/></g><g fill="#bfbf00"><circle cx="428.5" cy="1224.3" r="3.15"/><circle cx="445.4" cy="1224.9" r="3.15"/><circle cx="462.2" cy="1224.9" r="3.15"/><circle cx="497.0" cy="1224.3" r="3.15"/><circle cx="502.3" cy="1224.3" r="3.15"/><circle cx="535.2" cy="1224.3" r="3.15"/><circle cx="551.8" cy="1224.9" r="3.15"/><circle cx="563.9" cy="1224.3" r="3.15"/><circle cx="586.5" cy="1224.9" r="3.15"/></g><g fill="#0000ff"><circle cx="428.5" cy="994.1" r="3.15"/><circle cx="445.4" cy="995.4" r="3.15"/><circle cx="462.2" cy="990.7" r="3.15"/><circle cx="497.0" cy="988.8" r="3.15"/><circle cx="502.3" cy="994.1" r="3.15"/><circle cx="535.2" cy="991.6" r="3.15"/><circle cx="551.8" cy="994.5" r="3.15"/><circle cx="563.9" cy="992.6" r="3.15"/><circle cx="586.5" cy="992.2" r="3.15"/></g></g><rect x="428.5" y="989.5" width="158.0" height="237.0" fill="none" stroke="#000" stroke-width="1.3"/><path d="M428.5 1000.5h6M586.5 1000.5h-6M428.5 1032.5h6M586.5 1032.5h-6M428.5 1063.5h6M586.5 1063.5h-6M428.5 1095.5h6M586.5 1095.5h-6M428.5 1127.5h6M586.5 1127.5h-6M428.5 1158.5h6M586.5 1158.5h-6M428.5 1189.5h6M586.5 1189.5h-6M428.5 1221.5h6M586.5 1221.5h-6M437.5 989.5v6M437.5 1226.5v-6M454.5 989.5v6M454.5 1226.5v-6M471.5 989.5v6M471.5 1226.5v-6M488.5 989.5v6M488.5 1226.5v-6M505.5 989.5v6M505.5 1226.5v-6M522.5 989.5v6M522.5 1226.5v-6M538.5 989.5v6M538.5 1226.5v-6M555.5 989.5v6M555.5 1226.5v-6M572.5 989.5v6M572.5 1226.5v-6" stroke="#111" stroke-width="1" fill="none"/><text x="422.0" y="1006.6" font-size="16.8" text-anchor="end" textLength="40.8" lengthAdjust="spacingAndGlyphs">4200</text><text x="422.0" y="1038.4" font-size="16.8" text-anchor="end" textLength="40.8" lengthAdjust="spacingAndGlyphs">4100</text><text x="422.0" y="1069.3" font-size="16.8" text-anchor="end" textLength="40.8" lengthAdjust="spacingAndGlyphs">4000</text><text x="422.0" y="1101.0" font-size="16.8" text-anchor="end" textLength="40.8" lengthAdjust="spacingAndGlyphs">3900</text><text x="422.0" y="1133.1" font-size="16.8" text-anchor="end" textLength="40.8" lengthAdjust="spacingAndGlyphs">3800</text><text x="422.0" y="1164.2" font-size="16.8" text-anchor="end" textLength="40.8" lengthAdjust="spacingAndGlyphs">3700</text><text x="422.0" y="1195.9" font-size="16.8" text-anchor="end" textLength="40.8" lengthAdjust="spacingAndGlyphs">3600</text><text x="422.0" y="1227.4" font-size="16.8" text-anchor="end" textLength="40.8" lengthAdjust="spacingAndGlyphs">3500</text><text x="435.5" y="1014.8" font-size="19.4" textLength="38.5" lengthAdjust="spacingAndGlyphs">#66</text><text transform="translate(437.2 1274.5) rotate(-45)" x="0" y="4.1" font-size="16.8" text-anchor="middle" textLength="109" lengthAdjust="spacingAndGlyphs">May 03 2013</text><text transform="translate(454.2 1274.5) rotate(-45)" x="0" y="4.1" font-size="16.8" text-anchor="middle" textLength="109" lengthAdjust="spacingAndGlyphs">May 06 2013</text><text transform="translate(471.1 1274.5) rotate(-45)" x="0" y="4.1" font-size="16.8" text-anchor="middle" textLength="109" lengthAdjust="spacingAndGlyphs">May 09 2013</text><text transform="translate(488.1 1274.5) rotate(-45)" x="0" y="4.1" font-size="16.8" text-anchor="middle" textLength="109" lengthAdjust="spacingAndGlyphs">May 12 2013</text><text transform="translate(505.0 1274.5) rotate(-45)" x="0" y="4.1" font-size="16.8" text-anchor="middle" textLength="109" lengthAdjust="spacingAndGlyphs">May 15 2013</text><text transform="translate(522.0 1274.5) rotate(-45)" x="0" y="4.1" font-size="16.8" text-anchor="middle" textLength="109" lengthAdjust="spacingAndGlyphs">May 18 2013</text><text transform="translate(539.0 1274.5) rotate(-45)" x="0" y="4.1" font-size="16.8" text-anchor="middle" textLength="109" lengthAdjust="spacingAndGlyphs">May 21 2013</text><text transform="translate(555.9 1274.5) rotate(-45)" x="0" y="4.1" font-size="16.8" text-anchor="middle" textLength="109" lengthAdjust="spacingAndGlyphs">May 24 2013</text><text transform="translate(572.9 1274.5) rotate(-45)" x="0" y="4.1" font-size="16.8" text-anchor="middle" textLength="109" lengthAdjust="spacingAndGlyphs">May 27 2013</text><g clip-path="url(#c32)"><g fill="#008000"><circle cx="617.5" cy="991.6" r="3.15"/><circle cx="634.4" cy="990.9" r="3.15"/><circle cx="651.2" cy="992.2" r="3.15"/><circle cx="686.0" cy="989.8" r="3.15"/><circle cx="691.3" cy="992.2" r="3.15"/><circle cx="724.2" cy="988.8" r="3.15"/><circle cx="740.8" cy="990.9" r="3.15"/><circle cx="752.9" cy="989.8" r="3.15"/><circle cx="775.5" cy="990.3" r="3.15"/></g><g fill="#ff0000"><circle cx="617.5" cy="1058.3" r="3.15"/><circle cx="634.4" cy="1055.4" r="3.15"/><circle cx="651.2" cy="1056.0" r="3.15"/><circle cx="686.0" cy="1057.3" r="3.15"/><circle cx="691.3" cy="1055.0" r="3.15"/><circle cx="724.2" cy="1055.0" r="3.15"/><circle cx="740.8" cy="1056.0" r="3.15"/><circle cx="752.9" cy="1056.7" r="3.15"/><circle cx="775.5" cy="1053.9" r="3.15"/></g><g fill="#bfbf00"><circle cx="617.5" cy="1224.3" r="3.15"/><circle cx="634.4" cy="1222.4" r="3.15"/><circle cx="651.2" cy="1224.9" r="3.15"/><circle cx="686.0" cy="1218.1" r="3.15"/><circle cx="691.3" cy="1223.0" r="3.15"/><circle cx="724.2" cy="1223.0" r="3.15"/><circle cx="740.8" cy="1218.1" r="3.15"/><circle cx="752.9" cy="1219.6" r="3.15"/><circle cx="775.5" cy="1216.4" r="3.15"/></g><g fill="#0000ff"><circle cx="617.5" cy="1179.4" r="3.15"/><circle cx="634.4" cy="1181.8" r="3.15"/><circle cx="651.2" cy="1181.3" r="3.15"/><circle cx="686.0" cy="1171.8" r="3.15"/><circle cx="691.3" cy="1173.0" r="3.15"/><circle cx="724.2" cy="1175.8" r="3.15"/><circle cx="740.8" cy="1173.4" r="3.15"/><circle cx="752.9" cy="1163.9" r="3.15"/><circle cx="775.5" cy="1167.1" r="3.15"/></g></g><rect x="617.5" y="989.5" width="158.0" height="237.0" fill="none" stroke="#000" stroke-width="1.3"/><path d="M617.5 1002.5h6M775.5 1002.5h-6M617.5 1032.5h6M775.5 1032.5h-6M617.5 1062.5h6M775.5 1062.5h-6M617.5 1092.5h6M775.5 1092.5h-6M617.5 1122.5h6M775.5 1122.5h-6M617.5 1151.5h6M775.5 1151.5h-6M617.5 1181.5h6M775.5 1181.5h-6M617.5 1211.5h6M775.5 1211.5h-6M626.5 989.5v6M626.5 1226.5v-6M643.5 989.5v6M643.5 1226.5v-6M660.5 989.5v6M660.5 1226.5v-6M677.5 989.5v6M677.5 1226.5v-6M694.5 989.5v6M694.5 1226.5v-6M711.5 989.5v6M711.5 1226.5v-6M727.5 989.5v6M727.5 1226.5v-6M744.5 989.5v6M744.5 1226.5v-6M761.5 989.5v6M761.5 1226.5v-6" stroke="#111" stroke-width="1" fill="none"/><text x="611.0" y="1008.2" font-size="16.8" text-anchor="end" textLength="40.8" lengthAdjust="spacingAndGlyphs">2500</text><text x="611.0" y="1038.4" font-size="16.8" text-anchor="end" textLength="40.8" lengthAdjust="spacingAndGlyphs">2400</text><text x="611.0" y="1068.0" font-size="16.8" text-anchor="end" textLength="40.8" lengthAdjust="spacingAndGlyphs">2300</text><text x="611.0" y="1098.2" font-size="16.8" text-anchor="end" textLength="40.8" lengthAdjust="spacingAndGlyphs">2200</text><text x="611.0" y="1128.0" font-size="16.8" text-anchor="end" textLength="40.8" lengthAdjust="spacingAndGlyphs">2100</text><text x="611.0" y="1157.2" font-size="16.8" text-anchor="end" textLength="40.8" lengthAdjust="spacingAndGlyphs">2000</text><text x="611.0" y="1187.2" font-size="16.8" text-anchor="end" textLength="40.8" lengthAdjust="spacingAndGlyphs">1900</text><text x="611.0" y="1217.0" font-size="16.8" text-anchor="end" textLength="40.8" lengthAdjust="spacingAndGlyphs">1800</text><text x="624.5" y="1014.8" font-size="19.4" textLength="38.5" lengthAdjust="spacingAndGlyphs">#67</text><text transform="translate(626.2 1274.5) rotate(-45)" x="0" y="4.1" font-size="16.8" text-anchor="middle" textLength="109" lengthAdjust="spacingAndGlyphs">May 03 2013</text><text transform="translate(643.2 1274.5) rotate(-45)" x="0" y="4.1" font-size="16.8" text-anchor="middle" textLength="109" lengthAdjust="spacingAndGlyphs">May 06 2013</text><text transform="translate(660.1 1274.5) rotate(-45)" x="0" y="4.1" font-size="16.8" text-anchor="middle" textLength="109" lengthAdjust="spacingAndGlyphs">May 09 2013</text><text transform="translate(677.1 1274.5) rotate(-45)" x="0" y="4.1" font-size="16.8" text-anchor="middle" textLength="109" lengthAdjust="spacingAndGlyphs">May 12 2013</text><text transform="translate(694.0 1274.5) rotate(-45)" x="0" y="4.1" font-size="16.8" text-anchor="middle" textLength="109" lengthAdjust="spacingAndGlyphs">May 15 2013</text><text transform="translate(711.0 1274.5) rotate(-45)" x="0" y="4.1" font-size="16.8" text-anchor="middle" textLength="109" lengthAdjust="spacingAndGlyphs">May 18 2013</text><text transform="translate(728.0 1274.5) rotate(-45)" x="0" y="4.1" font-size="16.8" text-anchor="middle" textLength="109" lengthAdjust="spacingAndGlyphs">May 21 2013</text><text transform="translate(744.9 1274.5) rotate(-45)" x="0" y="4.1" font-size="16.8" text-anchor="middle" textLength="109" lengthAdjust="spacingAndGlyphs">May 24 2013</text><text transform="translate(761.9 1274.5) rotate(-45)" x="0" y="4.1" font-size="16.8" text-anchor="middle" textLength="109" lengthAdjust="spacingAndGlyphs">May 27 2013</text><g clip-path="url(#c33)"><g fill="#008000"><circle cx="807.5" cy="990.3" r="3.15"/><circle cx="824.3" cy="993.2" r="3.15"/><circle cx="840.9" cy="990.3" r="3.15"/><circle cx="875.5" cy="991.6" r="3.15"/><circle cx="880.8" cy="993.7" r="3.15"/><circle cx="913.6" cy="989.8" r="3.15"/><circle cx="930.0" cy="988.8" r="3.15"/><circle cx="942.0" cy="991.8" r="3.15"/><circle cx="964.5" cy="990.9" r="3.15"/></g><g fill="#ff0000"><circle cx="807.5" cy="1098.3" r="3.15"/><circle cx="824.3" cy="1098.4" r="3.15"/><circle cx="840.9" cy="1099.2" r="3.15"/><circle cx="875.5" cy="1097.9" r="3.15"/><circle cx="880.8" cy="1097.9" r="3.15"/><circle cx="913.6" cy="1096.9" r="3.15"/><circle cx="930.0" cy="1100.1" r="3.15"/><circle cx="942.0" cy="1096.9" r="3.15"/><circle cx="964.5" cy="1097.3" r="3.15"/></g><g fill="#bfbf00"><circle cx="807.5" cy="1224.9" r="3.15"/><circle cx="824.3" cy="1221.1" r="3.15"/><circle cx="840.9" cy="1222.0" r="3.15"/><circle cx="875.5" cy="1220.1" r="3.15"/><circle cx="880.8" cy="1223.7" r="3.15"/><circle cx="913.6" cy="1222.0" r="3.15"/><circle cx="930.0" cy="1224.9" r="3.15"/><circle cx="942.0" cy="1223.7" r="3.15"/><circle cx="964.5" cy="1222.0" r="3.15"/></g><g fill="#0000ff"><circle cx="807.5" cy="1123.9" r="3.15"/><circle cx="824.3" cy="1125.6" r="3.15"/><circle cx="840.9" cy="1124.7" r="3.15"/><circle cx="875.5" cy="1118.3" r="3.15"/><circle cx="880.8" cy="1123.4" r="3.15"/><circle cx="913.6" cy="1123.9" r="3.15"/><circle cx="930.0" cy="1128.4" r="3.15"/><circle cx="942.0" cy="1117.3" r="3.15"/><circle cx="964.5" cy="1122.4" r="3.15"/></g></g><rect x="807.5" y="989.5" width="157.0" height="237.0" fill="none" stroke="#000" stroke-width="1.3"/><path d="M807.5 997.5h6M964.5 997.5h-6M807.5 1037.5h6M964.5 1037.5h-6M807.5 1077.5h6M964.5 1077.5h-6M807.5 1117.5h6M964.5 1117.5h-6M807.5 1157.5h6M964.5 1157.5h-6M807.5 1197.5h6M964.5 1197.5h-6M816.5 989.5v6M816.5 1226.5v-6M832.5 989.5v6M832.5 1226.5v-6M849.5 989.5v6M849.5 1226.5v-6M866.5 989.5v6M866.5 1226.5v-6M883.5 989.5v6M883.5 1226.5v-6M900.5 989.5v6M900.5 1226.5v-6M917.5 989.5v6M917.5 1226.5v-6M934.5 989.5v6M934.5 1226.5v-6M950.5 989.5v6M950.5 1226.5v-6" stroke="#111" stroke-width="1" fill="none"/><text x="801.0" y="1003.3" font-size="16.8" text-anchor="end" textLength="40.8" lengthAdjust="spacingAndGlyphs">2800</text><text x="801.0" y="1043.1" font-size="16.8" text-anchor="end" textLength="40.8" lengthAdjust="spacingAndGlyphs">2600</text><text x="801.0" y="1083.1" font-size="16.8" text-anchor="end" textLength="40.8" lengthAdjust="spacingAndGlyphs">2400</text><text x="801.0" y="1123.3" font-size="16.8" text-anchor="end" textLength="40.8" lengthAdjust="spacingAndGlyphs">2200</text><text x="801.0" y="1163.3" font-size="16.8" text-anchor="end" textLength="40.8" lengthAdjust="spacingAndGlyphs">2000</text><text x="801.0" y="1203.3" font-size="16.8" text-anchor="end" textLength="40.8" lengthAdjust="spacingAndGlyphs">1800</text><text x="814.5" y="1014.8" font-size="19.4" textLength="38.5" lengthAdjust="spacingAndGlyphs">#68</text><text transform="translate(816.1 1274.5) rotate(-45)" x="0" y="4.1" font-size="16.8" text-anchor="middle" textLength="109" lengthAdjust="spacingAndGlyphs">May 03 2013</text><text transform="translate(833.0 1274.5) rotate(-45)" x="0" y="4.1" font-size="16.8" text-anchor="middle" textLength="109" lengthAdjust="spacingAndGlyphs">May 06 2013</text><text transform="translate(849.9 1274.5) rotate(-45)" x="0" y="4.1" font-size="16.8" text-anchor="middle" textLength="109" lengthAdjust="spacingAndGlyphs">May 09 2013</text><text transform="translate(866.7 1274.5) rotate(-45)" x="0" y="4.1" font-size="16.8" text-anchor="middle" textLength="109" lengthAdjust="spacingAndGlyphs">May 12 2013</text><text transform="translate(883.6 1274.5) rotate(-45)" x="0" y="4.1" font-size="16.8" text-anchor="middle" textLength="109" lengthAdjust="spacingAndGlyphs">May 15 2013</text><text transform="translate(900.4 1274.5) rotate(-45)" x="0" y="4.1" font-size="16.8" text-anchor="middle" textLength="109" lengthAdjust="spacingAndGlyphs">May 18 2013</text><text transform="translate(917.3 1274.5) rotate(-45)" x="0" y="4.1" font-size="16.8" text-anchor="middle" textLength="109" lengthAdjust="spacingAndGlyphs">May 21 2013</text><text transform="translate(934.1 1274.5) rotate(-45)" x="0" y="4.1" font-size="16.8" text-anchor="middle" textLength="109" lengthAdjust="spacingAndGlyphs">May 24 2013</text><text transform="translate(951.0 1274.5) rotate(-45)" x="0" y="4.1" font-size="16.8" text-anchor="middle" textLength="109" lengthAdjust="spacingAndGlyphs">May 27 2013</text><g clip-path="url(#c34)"><g fill="#008000"><circle cx="996.5" cy="1080.3" r="3.15"/><circle cx="1013.4" cy="1081.3" r="3.15"/><circle cx="1030.2" cy="1081.3" r="3.15"/><circle cx="1065.0" cy="1087.5" r="3.15"/><circle cx="1070.3" cy="1087.5" r="3.15"/><circle cx="1103.2" cy="1085.6" r="3.15"/><circle cx="1119.8" cy="1085.0" r="3.15"/><circle cx="1131.9" cy="1087.9" r="3.15"/><circle cx="1154.5" cy="1085.0" r="3.15"/></g><g fill="#ff0000"><circle cx="996.5" cy="1123.4" r="3.15"/><circle cx="1013.4" cy="1119.0" r="3.15"/><circle cx="1030.2" cy="1119.6" r="3.15"/><circle cx="1065.0" cy="1122.4" r="3.15"/><circle cx="1070.3" cy="1126.2" r="3.15"/><circle cx="1103.2" cy="1123.4" r="3.15"/><circle cx="1119.8" cy="1126.2" r="3.15"/><circle cx="1131.9" cy="1123.9" r="3.15"/><circle cx="1154.5" cy="1123.4" r="3.15"/></g><g fill="#bfbf00"><circle cx="996.5" cy="1219.2" r="3.15"/><circle cx="1013.4" cy="1223.4" r="3.15"/><circle cx="1030.2" cy="1213.0" r="3.15"/><circle cx="1065.0" cy="1223.4" r="3.15"/><circle cx="1070.3" cy="1220.1" r="3.15"/><circle cx="1103.2" cy="1218.1" r="3.15"/><circle cx="1119.8" cy="1213.0" r="3.15"/><circle cx="1131.9" cy="1220.1" r="3.15"/><circle cx="1154.5" cy="1224.9" r="3.15"/></g><g fill="#0000ff"><circle cx="996.5" cy="990.7" r="3.15"/><circle cx="1013.4" cy="993.5" r="3.15"/><circle cx="1030.2" cy="988.8" r="3.15"/><circle cx="1065.0" cy="989.8" r="3.15"/><circle cx="1070.3" cy="993.2" r="3.15"/><circle cx="1103.2" cy="993.2" r="3.15"/><circle cx="1119.8" cy="995.0" r="3.15"/><circle cx="1131.9" cy="989.8" r="3.15"/><circle cx="1154.5" cy="995.0" r="3.15"/></g></g><rect x="996.5" y="989.5" width="158.0" height="237.0" fill="none" stroke="#000" stroke-width="1.3"/><path d="M996.5 1005.5h6M1154.5 1005.5h-6M996.5 1034.5h6M1154.5 1034.5h-6M996.5 1063.5h6M1154.5 1063.5h-6M996.5 1092.5h6M1154.5 1092.5h-6M996.5 1120.5h6M1154.5 1120.5h-6M996.5 1149.5h6M1154.5 1149.5h-6M996.5 1177.5h6M1154.5 1177.5h-6M996.5 1205.5h6M1154.5 1205.5h-6M1005.5 989.5v6M1005.5 1226.5v-6M1022.5 989.5v6M1022.5 1226.5v-6M1039.5 989.5v6M1039.5 1226.5v-6M1056.5 989.5v6M1056.5 1226.5v-6M1073.5 989.5v6M1073.5 1226.5v-6M1090.5 989.5v6M1090.5 1226.5v-6M1106.5 989.5v6M1106.5 1226.5v-6M1123.5 989.5v6M1123.5 1226.5v-6M1140.5 989.5v6M1140.5 1226.5v-6" stroke="#111" stroke-width="1" fill="none"/><text x="990.0" y="1011.9" font-size="16.8" text-anchor="end" textLength="40.8" lengthAdjust="spacingAndGlyphs">1700</text><text x="990.0" y="1040.2" font-size="16.8" text-anchor="end" textLength="40.8" lengthAdjust="spacingAndGlyphs">1650</text><text x="990.0" y="1069.3" font-size="16.8" text-anchor="end" textLength="40.8" lengthAdjust="spacingAndGlyphs">1600</text><text x="990.0" y="1098.2" font-size="16.8" text-anchor="end" textLength="40.8" lengthAdjust="spacingAndGlyphs">1550</text><text x="990.0" y="1126.5" font-size="16.8" text-anchor="end" textLength="40.8" lengthAdjust="spacingAndGlyphs">1500</text><text x="990.0" y="1155.3" font-size="16.8" text-anchor="end" textLength="40.8" lengthAdjust="spacingAndGlyphs">1450</text><text x="990.0" y="1183.1" font-size="16.8" text-anchor="end" textLength="40.8" lengthAdjust="spacingAndGlyphs">1400</text><text x="990.0" y="1211.9" font-size="16.8" text-anchor="end" textLength="40.8" lengthAdjust="spacingAndGlyphs">1350</text><text x="1003.5" y="1014.8" font-size="19.4" textLength="38.5" lengthAdjust="spacingAndGlyphs">#69</text><text transform="translate(1005.2 1274.5) rotate(-45)" x="0" y="4.1" font-size="16.8" text-anchor="middle" textLength="109" lengthAdjust="spacingAndGlyphs">May 03 2013</text><text transform="translate(1022.2 1274.5) rotate(-45)" x="0" y="4.1" font-size="16.8" text-anchor="middle" textLength="109" lengthAdjust="spacingAndGlyphs">May 06 2013</text><text transform="translate(1039.1 1274.5) rotate(-45)" x="0" y="4.1" font-size="16.8" text-anchor="middle" textLength="109" lengthAdjust="spacingAndGlyphs">May 09 2013</text><text transform="translate(1056.1 1274.5) rotate(-45)" x="0" y="4.1" font-size="16.8" text-anchor="middle" textLength="109" lengthAdjust="spacingAndGlyphs">May 12 2013</text><text transform="translate(1073.0 1274.5) rotate(-45)" x="0" y="4.1" font-size="16.8" text-anchor="middle" textLength="109" lengthAdjust="spacingAndGlyphs">May 15 2013</text><text transform="translate(1090.0 1274.5) rotate(-45)" x="0" y="4.1" font-size="16.8" text-anchor="middle" textLength="109" lengthAdjust="spacingAndGlyphs">May 18 2013</text><text transform="translate(1107.0 1274.5) rotate(-45)" x="0" y="4.1" font-size="16.8" text-anchor="middle" textLength="109" lengthAdjust="spacingAndGlyphs">May 21 2013</text><text transform="translate(1123.9 1274.5) rotate(-45)" x="0" y="4.1" font-size="16.8" text-anchor="middle" textLength="109" lengthAdjust="spacingAndGlyphs">May 24 2013</text><text transform="translate(1140.9 1274.5) rotate(-45)" x="0" y="4.1" font-size="16.8" text-anchor="middle" textLength="109" lengthAdjust="spacingAndGlyphs">May 27 2013</text><g clip-path="url(#c35)"><g fill="#008000"><circle cx="1185.5" cy="990.3" r="3.15"/><circle cx="1202.4" cy="988.8" r="3.15"/><circle cx="1219.2" cy="990.7" r="3.15"/><circle cx="1254.0" cy="992.6" r="3.15"/><circle cx="1259.3" cy="996.9" r="3.15"/><circle cx="1292.2" cy="991.6" r="3.15"/><circle cx="1308.8" cy="993.2" r="3.15"/><circle cx="1320.9" cy="991.8" r="3.15"/><circle cx="1343.5" cy="992.6" r="3.15"/></g><g fill="#ff0000"><circle cx="1185.5" cy="1093.2" r="3.15"/><circle cx="1202.4" cy="1092.8" r="3.15"/><circle cx="1219.2" cy="1092.6" r="3.15"/><circle cx="1254.0" cy="1095.6" r="3.15"/><circle cx="1259.3" cy="1095.4" r="3.15"/><circle cx="1292.2" cy="1095.4" r="3.15"/><circle cx="1308.8" cy="1094.1" r="3.15"/><circle cx="1320.9" cy="1096.0" r="3.15"/><circle cx="1343.5" cy="1096.0" r="3.15"/></g><g fill="#bfbf00"><circle cx="1185.5" cy="1170.1" r="3.15"/><circle cx="1202.4" cy="1170.5" r="3.15"/><circle cx="1219.2" cy="1171.5" r="3.15"/><circle cx="1254.0" cy="1172.4" r="3.15"/><circle cx="1259.3" cy="1172.4" r="3.15"/><circle cx="1292.2" cy="1173.4" r="3.15"/><circle cx="1308.8" cy="1170.5" r="3.15"/><circle cx="1320.9" cy="1171.5" r="3.15"/><circle cx="1343.5" cy="1170.5" r="3.15"/></g><g fill="#0000ff"><circle cx="1185.5" cy="1224.9" r="3.15"/><circle cx="1202.4" cy="1223.0" r="3.15"/><circle cx="1219.2" cy="1221.8" r="3.15"/><circle cx="1254.0" cy="1224.3" r="3.15"/><circle cx="1259.3" cy="1224.9" r="3.15"/><circle cx="1292.2" cy="1213.0" r="3.15"/><circle cx="1308.8" cy="1209.6" r="3.15"/><circle cx="1320.9" cy="1211.5" r="3.15"/><circle cx="1343.5" cy="1209.6" r="3.15"/></g></g><rect x="1185.5" y="989.5" width="158.0" height="237.0" fill="none" stroke="#000" stroke-width="1.3"/><path d="M1185.5 1002.5h6M1343.5 1002.5h-6M1185.5 1032.5h6M1343.5 1032.5h-6M1185.5 1063.5h6M1343.5 1063.5h-6M1185.5 1093.5h6M1343.5 1093.5h-6M1185.5 1124.5h6M1343.5 1124.5h-6M1185.5 1155.5h6M1343.5 1155.5h-6M1185.5 1185.5h6M1343.5 1185.5h-6M1185.5 1216.5h6M1343.5 1216.5h-6M1194.5 989.5v6M1194.5 1226.5v-6M1211.5 989.5v6M1211.5 1226.5v-6M1228.5 989.5v6M1228.5 1226.5v-6M1245.5 989.5v6M1245.5 1226.5v-6M1262.5 989.5v6M1262.5 1226.5v-6M1279.5 989.5v6M1279.5 1226.5v-6M1295.5 989.5v6M1295.5 1226.5v-6M1312.5 989.5v6M1312.5 1226.5v-6M1329.5 989.5v6M1329.5 1226.5v-6" stroke="#111" stroke-width="1" fill="none"/><text x="1179.0" y="1008.0" font-size="16.8" text-anchor="end" textLength="40.8" lengthAdjust="spacingAndGlyphs">4200</text><text x="1179.0" y="1038.4" font-size="16.8" text-anchor="end" textLength="40.8" lengthAdjust="spacingAndGlyphs">4000</text><text x="1179.0" y="1069.3" font-size="16.8" text-anchor="end" textLength="40.8" lengthAdjust="spacingAndGlyphs">3800</text><text x="1179.0" y="1099.7" font-size="16.8" text-anchor="end" textLength="40.8" lengthAdjust="spacingAndGlyphs">3600</text><text x="1179.0" y="1130.2" font-size="16.8" text-anchor="end" textLength="40.8" lengthAdjust="spacingAndGlyphs">3400</text><text x="1179.0" y="1161.0" font-size="16.8" text-anchor="end" textLength="40.8" lengthAdjust="spacingAndGlyphs">3200</text><text x="1179.0" y="1191.9" font-size="16.8" text-anchor="end" textLength="40.8" lengthAdjust="spacingAndGlyphs">3000</text><text x="1179.0" y="1222.1" font-size="16.8" text-anchor="end" textLength="40.8" lengthAdjust="spacingAndGlyphs">2800</text><text x="1192.5" y="1014.8" font-size="19.4" textLength="38.5" lengthAdjust="spacingAndGlyphs">#70</text><text transform="translate(1194.2 1274.5) rotate(-45)" x="0" y="4.1" font-size="16.8" text-anchor="middle" textLength="109" lengthAdjust="spacingAndGlyphs">May 03 2013</text><text transform="translate(1211.2 1274.5) rotate(-45)" x="0" y="4.1" font-size="16.8" text-anchor="middle" textLength="109" lengthAdjust="spacingAndGlyphs">May 06 2013</text><text transform="translate(1228.1 1274.5) rotate(-45)" x="0" y="4.1" font-size="16.8" text-anchor="middle" textLength="109" lengthAdjust="spacingAndGlyphs">May 09 2013</text><text transform="translate(1245.1 1274.5) rotate(-45)" x="0" y="4.1" font-size="16.8" text-anchor="middle" textLength="109" lengthAdjust="spacingAndGlyphs">May 12 2013</text><text transform="translate(1262.0 1274.5) rotate(-45)" x="0" y="4.1" font-size="16.8" text-anchor="middle" textLength="109" lengthAdjust="spacingAndGlyphs">May 15 2013</text><text transform="translate(1279.0 1274.5) rotate(-45)" x="0" y="4.1" font-size="16.8" text-anchor="middle" textLength="109" lengthAdjust="spacingAndGlyphs">May 18 2013</text><text transform="translate(1296.0 1274.5) rotate(-45)" x="0" y="4.1" font-size="16.8" text-anchor="middle" textLength="109" lengthAdjust="spacingAndGlyphs">May 21 2013</text><text transform="translate(1312.9 1274.5) rotate(-45)" x="0" y="4.1" font-size="16.8" text-anchor="middle" textLength="109" lengthAdjust="spacingAndGlyphs">May 24 2013</text><text transform="translate(1329.9 1274.5) rotate(-45)" x="0" y="4.1" font-size="16.8" text-anchor="middle" textLength="109" lengthAdjust="spacingAndGlyphs">May 27 2013</text><g clip-path="url(#c36)"><g fill="#008000"><circle cx="1374.5" cy="996.0" r="3.15"/><circle cx="1391.4" cy="996.9" r="3.15"/><circle cx="1408.2" cy="997.5" r="3.15"/><circle cx="1443.0" cy="1000.7" r="3.15"/><circle cx="1448.3" cy="1001.1" r="3.15"/><circle cx="1481.2" cy="989.4" r="3.15"/><circle cx="1497.8" cy="990.7" r="3.15"/><circle cx="1509.9" cy="991.3" r="3.15"/><circle cx="1532.5" cy="991.3" r="3.15"/></g><g fill="#ff0000"><circle cx="1374.5" cy="1027.5" r="3.15"/><circle cx="1391.4" cy="1028.1" r="3.15"/><circle cx="1408.2" cy="1027.7" r="3.15"/><circle cx="1443.0" cy="1026.2" r="3.15"/><circle cx="1448.3" cy="1027.1" r="3.15"/><circle cx="1481.2" cy="1026.7" r="3.15"/><circle cx="1497.8" cy="1026.6" r="3.15"/><circle cx="1509.9" cy="1026.6" r="3.15"/><circle cx="1532.5" cy="1026.2" r="3.15"/></g><g fill="#bfbf00"><circle cx="1374.5" cy="1082.2" r="3.15"/><circle cx="1391.4" cy="1081.8" r="3.15"/><circle cx="1408.2" cy="1082.4" r="3.15"/><circle cx="1443.0" cy="1081.5" r="3.15"/><circle cx="1448.3" cy="1080.3" r="3.15"/><circle cx="1481.2" cy="1080.5" r="3.15"/><circle cx="1497.8" cy="1080.9" r="3.15"/><circle cx="1509.9" cy="1081.8" r="3.15"/><circle cx="1532.5" cy="1081.8" r="3.15"/></g><g fill="#0000ff"><circle cx="1374.5" cy="1221.8" r="3.15"/><circle cx="1391.4" cy="1221.1" r="3.15"/><circle cx="1408.2" cy="1220.5" r="3.15"/><circle cx="1443.0" cy="1223.0" r="3.15"/><circle cx="1448.3" cy="1223.0" r="3.15"/><circle cx="1481.2" cy="1224.3" r="3.15"/><circle cx="1497.8" cy="1223.7" r="3.15"/><circle cx="1509.9" cy="1222.4" r="3.15"/><circle cx="1532.5" cy="1224.9" r="3.15"/></g></g><rect x="1374.5" y="989.5" width="158.0" height="237.0" fill="none" stroke="#000" stroke-width="1.3"/><path d="M1374.5 1012.5h6M1532.5 1012.5h-6M1374.5 1049.5h6M1532.5 1049.5h-6M1374.5 1086.5h6M1532.5 1086.5h-6M1374.5 1123.5h6M1532.5 1123.5h-6M1374.5 1160.5h6M1532.5 1160.5h-6M1374.5 1196.5h6M1532.5 1196.5h-6M1383.5 989.5v6M1383.5 1226.5v-6M1400.5 989.5v6M1400.5 1226.5v-6M1417.5 989.5v6M1417.5 1226.5v-6M1434.5 989.5v6M1434.5 1226.5v-6M1451.5 989.5v6M1451.5 1226.5v-6M1468.5 989.5v6M1468.5 1226.5v-6M1484.5 989.5v6M1484.5 1226.5v-6M1501.5 989.5v6M1501.5 1226.5v-6M1518.5 989.5v6M1518.5 1226.5v-6" stroke="#111" stroke-width="1" fill="none"/><text x="1368.0" y="1018.3" font-size="16.8" text-anchor="end" textLength="40.8" lengthAdjust="spacingAndGlyphs">6000</text><text x="1368.0" y="1055.1" font-size="16.8" text-anchor="end" textLength="40.8" lengthAdjust="spacingAndGlyphs">5500</text><text x="1368.0" y="1092.1" font-size="16.8" text-anchor="end" textLength="40.8" lengthAdjust="spacingAndGlyphs">5000</text><text x="1368.0" y="1129.3" font-size="16.8" text-anchor="end" textLength="40.8" lengthAdjust="spacingAndGlyphs">4500</text><text x="1368.0" y="1166.1" font-size="16.8" text-anchor="end" textLength="40.8" lengthAdjust="spacingAndGlyphs">4000</text><text x="1368.0" y="1202.9" font-size="16.8" text-anchor="end" textLength="40.8" lengthAdjust="spacingAndGlyphs">3500</text><text x="1381.5" y="1014.8" font-size="19.4" textLength="38.5" lengthAdjust="spacingAndGlyphs">#71</text><text transform="translate(1383.2 1274.5) rotate(-45)" x="0" y="4.1" font-size="16.8" text-anchor="middle" textLength="109" lengthAdjust="spacingAndGlyphs">May 03 2013</text><text transform="translate(1400.2 1274.5) rotate(-45)" x="0" y="4.1" font-size="16.8" text-anchor="middle" textLength="109" lengthAdjust="spacingAndGlyphs">May 06 2013</text><text transform="translate(1417.1 1274.5) rotate(-45)" x="0" y="4.1" font-size="16.8" text-anchor="middle" textLength="109" lengthAdjust="spacingAndGlyphs">May 09 2013</text><text transform="translate(1434.1 1274.5) rotate(-45)" x="0" y="4.1" font-size="16.8" text-anchor="middle" textLength="109" lengthAdjust="spacingAndGlyphs">May 12 2013</text><text transform="translate(1451.0 1274.5) rotate(-45)" x="0" y="4.1" font-size="16.8" text-anchor="middle" textLength="109" lengthAdjust="spacingAndGlyphs">May 15 2013</text><text transform="translate(1468.0 1274.5) rotate(-45)" x="0" y="4.1" font-size="16.8" text-anchor="middle" textLength="109" lengthAdjust="spacingAndGlyphs">May 18 2013</text><text transform="translate(1485.0 1274.5) rotate(-45)" x="0" y="4.1" font-size="16.8" text-anchor="middle" textLength="109" lengthAdjust="spacingAndGlyphs">May 21 2013</text><text transform="translate(1501.9 1274.5) rotate(-45)" x="0" y="4.1" font-size="16.8" text-anchor="middle" textLength="109" lengthAdjust="spacingAndGlyphs">May 24 2013</text><text transform="translate(1518.9 1274.5) rotate(-45)" x="0" y="4.1" font-size="16.8" text-anchor="middle" textLength="109" lengthAdjust="spacingAndGlyphs">May 27 2013</text><g clip-path="url(#c37)"><g fill="#008000"><circle cx="1564.5" cy="990.7" r="3.15"/><circle cx="1581.3" cy="990.7" r="3.15"/><circle cx="1597.9" cy="990.7" r="3.15"/><circle cx="1632.5" cy="1000.7" r="3.15"/><circle cx="1637.8" cy="1001.3" r="3.15"/><circle cx="1670.6" cy="998.8" r="3.15"/><circle cx="1687.0" cy="999.4" r="3.15"/><circle cx="1699.0" cy="1000.3" r="3.15"/><circle cx="1721.5" cy="999.8" r="3.15"/></g><g fill="#ff0000"><circle cx="1564.5" cy="1053.9" r="3.15"/><circle cx="1581.3" cy="1049.2" r="3.15"/><circle cx="1597.9" cy="1054.1" r="3.15"/><circle cx="1632.5" cy="1055.8" r="3.15"/><circle cx="1637.8" cy="1053.0" r="3.15"/><circle cx="1670.6" cy="1054.5" r="3.15"/><circle cx="1687.0" cy="1053.5" r="3.15"/><circle cx="1699.0" cy="1054.9" r="3.15"/><circle cx="1721.5" cy="1051.6" r="3.15"/></g><g fill="#bfbf00"><circle cx="1564.5" cy="1221.5" r="3.15"/><circle cx="1581.3" cy="1224.9" r="3.15"/><circle cx="1597.9" cy="1223.7" r="3.15"/><circle cx="1632.5" cy="1218.3" r="3.15"/><circle cx="1637.8" cy="1224.9" r="3.15"/><circle cx="1670.6" cy="1223.7" r="3.15"/><circle cx="1687.0" cy="1220.5" r="3.15"/><circle cx="1699.0" cy="1220.0" r="3.15"/><circle cx="1721.5" cy="1222.8" r="3.15"/></g><g fill="#0000ff"><circle cx="1564.5" cy="1104.5" r="3.15"/><circle cx="1581.3" cy="1106.7" r="3.15"/><circle cx="1597.9" cy="1098.3" r="3.15"/><circle cx="1632.5" cy="1098.4" r="3.15"/><circle cx="1637.8" cy="1104.9" r="3.15"/><circle cx="1670.6" cy="1098.3" r="3.15"/><circle cx="1687.0" cy="1102.0" r="3.15"/><circle cx="1699.0" cy="1097.5" r="3.15"/><circle cx="1721.5" cy="1100.7" r="3.15"/></g></g><rect x="1564.5" y="989.5" width="157.0" height="237.0" fill="none" stroke="#000" stroke-width="1.3"/><path d="M1564.5 1007.5h6M1721.5 1007.5h-6M1564.5 1056.5h6M1721.5 1056.5h-6M1564.5 1106.5h6M1721.5 1106.5h-6M1564.5 1156.5h6M1721.5 1156.5h-6M1564.5 1205.5h6M1721.5 1205.5h-6M1573.5 989.5v6M1573.5 1226.5v-6M1589.5 989.5v6M1589.5 1226.5v-6M1606.5 989.5v6M1606.5 1226.5v-6M1623.5 989.5v6M1623.5 1226.5v-6M1640.5 989.5v6M1640.5 1226.5v-6M1657.5 989.5v6M1657.5 1226.5v-6M1674.5 989.5v6M1674.5 1226.5v-6M1691.5 989.5v6M1691.5 1226.5v-6M1707.5 989.5v6M1707.5 1226.5v-6" stroke="#111" stroke-width="1" fill="none"/><text x="1558.0" y="1013.3" font-size="16.8" text-anchor="end" textLength="40.8" lengthAdjust="spacingAndGlyphs">2800</text><text x="1558.0" y="1062.9" font-size="16.8" text-anchor="end" textLength="40.8" lengthAdjust="spacingAndGlyphs">2600</text><text x="1558.0" y="1112.9" font-size="16.8" text-anchor="end" textLength="40.8" lengthAdjust="spacingAndGlyphs">2400</text><text x="1558.0" y="1162.3" font-size="16.8" text-anchor="end" textLength="40.8" lengthAdjust="spacingAndGlyphs">2200</text><text x="1558.0" y="1211.9" font-size="16.8" text-anchor="end" textLength="40.8" lengthAdjust="spacingAndGlyphs">2000</text><text x="1571.5" y="1014.8" font-size="19.4" textLength="38.5" lengthAdjust="spacingAndGlyphs">#72</text><text transform="translate(1573.1 1274.5) rotate(-45)" x="0" y="4.1" font-size="16.8" text-anchor="middle" textLength="109" lengthAdjust="spacingAndGlyphs">May 03 2013</text><text transform="translate(1590.0 1274.5) rotate(-45)" x="0" y="4.1" font-size="16.8" text-anchor="middle" textLength="109" lengthAdjust="spacingAndGlyphs">May 06 2013</text><text transform="translate(1606.9 1274.5) rotate(-45)" x="0" y="4.1" font-size="16.8" text-anchor="middle" textLength="109" lengthAdjust="spacingAndGlyphs">May 09 2013</text><text transform="translate(1623.7 1274.5) rotate(-45)" x="0" y="4.1" font-size="16.8" text-anchor="middle" textLength="109" lengthAdjust="spacingAndGlyphs">May 12 2013</text><text transform="translate(1640.6 1274.5) rotate(-45)" x="0" y="4.1" font-size="16.8" text-anchor="middle" textLength="109" lengthAdjust="spacingAndGlyphs">May 15 2013</text><text transform="translate(1657.4 1274.5) rotate(-45)" x="0" y="4.1" font-size="16.8" text-anchor="middle" textLength="109" lengthAdjust="spacingAndGlyphs">May 18 2013</text><text transform="translate(1674.3 1274.5) rotate(-45)" x="0" y="4.1" font-size="16.8" text-anchor="middle" textLength="109" lengthAdjust="spacingAndGlyphs">May 21 2013</text><text transform="translate(1691.1 1274.5) rotate(-45)" x="0" y="4.1" font-size="16.8" text-anchor="middle" textLength="109" lengthAdjust="spacingAndGlyphs">May 24 2013</text><text transform="translate(1708.0 1274.5) rotate(-45)" x="0" y="4.1" font-size="16.8" text-anchor="middle" textLength="109" lengthAdjust="spacingAndGlyphs">May 27 2013</text>
<text x="956.4" y="80.8" font-size="29.5" text-anchor="middle" textLength="150.9" lengthAdjust="spacingAndGlyphs">Cold pixels</text>
<text transform="translate(74.1 682.6) rotate(-90)" x="0" y="0" font-size="25.4" text-anchor="middle" textLength="73.2" lengthAdjust="spacingAndGlyphs">Count</text>
<text x="955.5" y="1334.7" font-size="25.4" text-anchor="middle" textLength="126" lengthAdjust="spacingAndGlyphs">DATE-OBS</text>
<text x="1589.5" y="1335.2" font-size="17" textLength="306" lengthAdjust="spacingAndGlyphs">Created: 2013-06-03 11:27:45 (UTC)</text>
<rect x="1817.6" y="13.4" width="88.2" height="117.9" rx="4.5" fill="#808080"/>
<rect x="1815.4" y="10.4" width="88.2" height="117.9" rx="4.5" fill="#fff" stroke="#000" stroke-width="1.2"/>
<circle cx="1829.4" cy="27.0" r="3.2" fill="#008000"/>
<circle cx="1843.3" cy="25.6" r="3.2" fill="#008000"/>
<circle cx="1857.3" cy="28.0" r="3.2" fill="#008000"/>
<text x="1879" y="32.9" font-size="19.5">g'</text>
<circle cx="1829.4" cy="56.3" r="3.2" fill="#ff0000"/>
<circle cx="1843.3" cy="54.5" r="3.2" fill="#ff0000"/>
<circle cx="1857.3" cy="57.0" r="3.2" fill="#ff0000"/>
<text x="1879" y="61.8" font-size="19.5">r'</text>
<circle cx="1829.4" cy="85.0" r="3.2" fill="#bfbf00"/>
<circle cx="1843.3" cy="83.5" r="3.2" fill="#bfbf00"/>
<circle cx="1857.3" cy="86.0" r="3.2" fill="#bfbf00"/>
<text x="1879" y="90.7" font-size="19.5">i'</text>
<circle cx="1829.4" cy="114.3" r="3.2" fill="#0000ff"/>
<circle cx="1843.3" cy="112.5" r="3.2" fill="#0000ff"/>
<circle cx="1857.3" cy="115.0" r="3.2" fill="#0000ff"/>
<text x="1879" y="119.6" font-size="19.5">u'</text>
</svg></body></html>
